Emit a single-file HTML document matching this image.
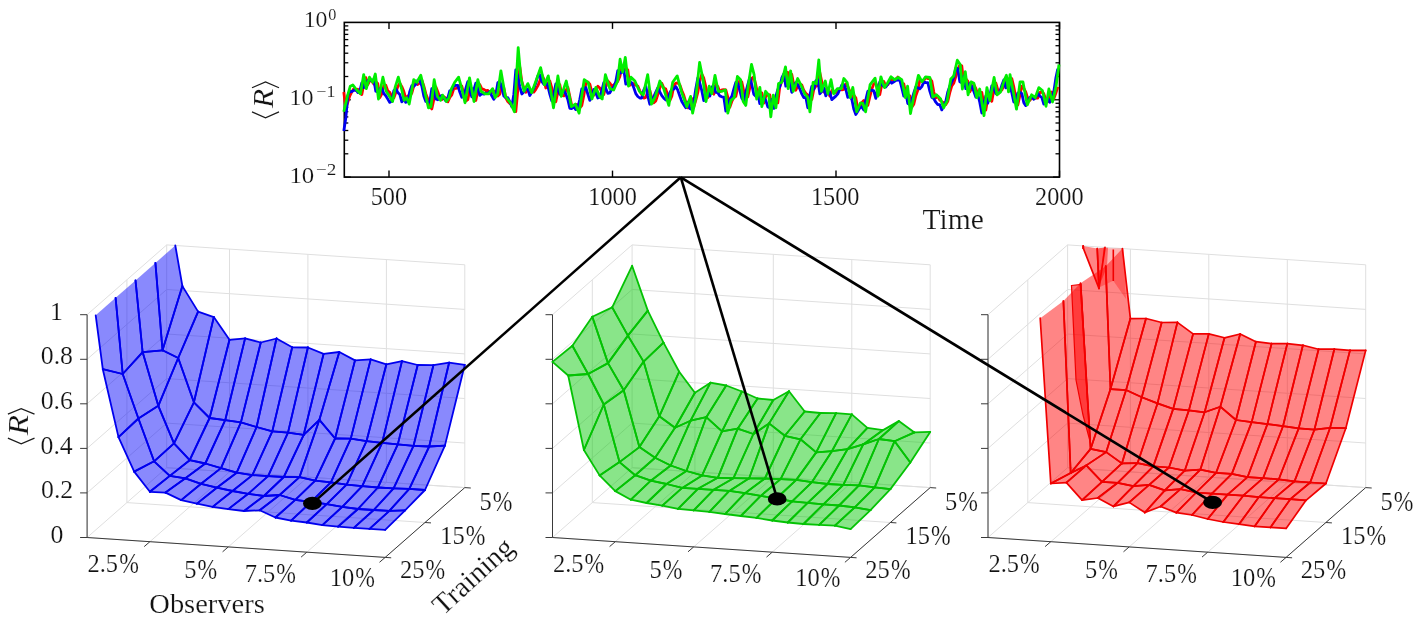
<!DOCTYPE html><html><head><meta charset="utf-8"><style>html,body{margin:0;padding:0;background:#fff;}svg{display:block;}text{font-family:"Liberation Serif",serif;fill:#111;stroke:#fff;stroke-width:0.7px;stroke-linejoin:round;}</style></head><body>
<svg width="1418" height="624" viewBox="0 0 1418 624">
<rect width="100%" height="100%" fill="#fff"/>
<line x1="229.5" y1="471.9" x2="229.5" y2="249.1" stroke="#dfdfdf" stroke-width="1.0"/>
<line x1="307.9" y1="477.1" x2="307.9" y2="254.3" stroke="#dfdfdf" stroke-width="1.0"/>
<line x1="386.4" y1="482.4" x2="386.4" y2="259.6" stroke="#dfdfdf" stroke-width="1.0"/>
<line x1="464.8" y1="487.6" x2="464.8" y2="264.8" stroke="#dfdfdf" stroke-width="1.0"/>
<line x1="166.7" y1="467.7" x2="464.8" y2="487.6" stroke="#dfdfdf" stroke-width="1.0"/>
<line x1="166.7" y1="423.1" x2="464.8" y2="443.0" stroke="#dfdfdf" stroke-width="1.0"/>
<line x1="166.7" y1="378.6" x2="464.8" y2="398.5" stroke="#dfdfdf" stroke-width="1.0"/>
<line x1="166.7" y1="334.0" x2="464.8" y2="353.9" stroke="#dfdfdf" stroke-width="1.0"/>
<line x1="166.7" y1="289.5" x2="464.8" y2="309.4" stroke="#dfdfdf" stroke-width="1.0"/>
<line x1="166.7" y1="244.9" x2="464.8" y2="264.8" stroke="#dfdfdf" stroke-width="1.0"/>
<line x1="87.1" y1="537.5" x2="87.1" y2="314.7" stroke="#dfdfdf" stroke-width="1.0"/>
<line x1="126.9" y1="502.6" x2="126.9" y2="279.8" stroke="#dfdfdf" stroke-width="1.0"/>
<line x1="166.7" y1="467.7" x2="166.7" y2="244.9" stroke="#dfdfdf" stroke-width="1.0"/>
<line x1="87.1" y1="537.5" x2="166.7" y2="467.7" stroke="#dfdfdf" stroke-width="1.0"/>
<line x1="87.1" y1="492.9" x2="166.7" y2="423.1" stroke="#dfdfdf" stroke-width="1.0"/>
<line x1="87.1" y1="448.4" x2="166.7" y2="378.6" stroke="#dfdfdf" stroke-width="1.0"/>
<line x1="87.1" y1="403.8" x2="166.7" y2="334.0" stroke="#dfdfdf" stroke-width="1.0"/>
<line x1="87.1" y1="359.3" x2="166.7" y2="289.5" stroke="#dfdfdf" stroke-width="1.0"/>
<line x1="87.1" y1="314.7" x2="166.7" y2="244.9" stroke="#dfdfdf" stroke-width="1.0"/>
<line x1="149.9" y1="541.7" x2="229.5" y2="471.9" stroke="#dfdfdf" stroke-width="1.0"/>
<line x1="228.3" y1="546.9" x2="307.9" y2="477.1" stroke="#dfdfdf" stroke-width="1.0"/>
<line x1="306.8" y1="552.2" x2="386.4" y2="482.4" stroke="#dfdfdf" stroke-width="1.0"/>
<line x1="385.2" y1="557.4" x2="464.8" y2="487.6" stroke="#dfdfdf" stroke-width="1.0"/>
<line x1="87.1" y1="537.5" x2="385.2" y2="557.4" stroke="#dfdfdf" stroke-width="1.0"/>
<line x1="126.9" y1="502.6" x2="425.0" y2="522.5" stroke="#dfdfdf" stroke-width="1.0"/>
<line x1="166.7" y1="467.7" x2="464.8" y2="487.6" stroke="#dfdfdf" stroke-width="1.0"/>
<line x1="87.1" y1="537.5" x2="385.2" y2="557.4" stroke="#3a3a3a" stroke-width="1.0"/>
<line x1="385.2" y1="557.4" x2="464.8" y2="487.6" stroke="#3a3a3a" stroke-width="1.0"/>
<line x1="87.1" y1="537.5" x2="87.1" y2="314.7" stroke="#3a3a3a" stroke-width="1.0"/>
<line x1="80.1" y1="537.5" x2="87.1" y2="537.5" stroke="#3a3a3a" stroke-width="1"/>
<line x1="80.1" y1="492.9" x2="87.1" y2="492.9" stroke="#3a3a3a" stroke-width="1"/>
<line x1="80.1" y1="448.4" x2="87.1" y2="448.4" stroke="#3a3a3a" stroke-width="1"/>
<line x1="80.1" y1="403.8" x2="87.1" y2="403.8" stroke="#3a3a3a" stroke-width="1"/>
<line x1="80.1" y1="359.3" x2="87.1" y2="359.3" stroke="#3a3a3a" stroke-width="1"/>
<line x1="80.1" y1="314.7" x2="87.1" y2="314.7" stroke="#3a3a3a" stroke-width="1"/>
<line x1="149.9" y1="541.7" x2="144.2" y2="546.6" stroke="#3a3a3a" stroke-width="1"/>
<line x1="228.3" y1="546.9" x2="222.6" y2="551.8" stroke="#3a3a3a" stroke-width="1"/>
<line x1="306.8" y1="552.2" x2="301.1" y2="557.1" stroke="#3a3a3a" stroke-width="1"/>
<line x1="385.2" y1="557.4" x2="379.5" y2="562.3" stroke="#3a3a3a" stroke-width="1"/>
<line x1="385.2" y1="557.4" x2="391.2" y2="557.8" stroke="#3a3a3a" stroke-width="1"/>
<line x1="425.0" y1="522.5" x2="431.0" y2="522.9" stroke="#3a3a3a" stroke-width="1"/>
<line x1="464.8" y1="487.6" x2="470.8" y2="488.0" stroke="#3a3a3a" stroke-width="1"/>
<line x1="694.9" y1="471.9" x2="694.9" y2="249.1" stroke="#dfdfdf" stroke-width="1.0"/>
<line x1="773.3" y1="477.1" x2="773.3" y2="254.3" stroke="#dfdfdf" stroke-width="1.0"/>
<line x1="851.8" y1="482.4" x2="851.8" y2="259.6" stroke="#dfdfdf" stroke-width="1.0"/>
<line x1="930.2" y1="487.6" x2="930.2" y2="264.8" stroke="#dfdfdf" stroke-width="1.0"/>
<line x1="632.1" y1="467.7" x2="930.2" y2="487.6" stroke="#dfdfdf" stroke-width="1.0"/>
<line x1="632.1" y1="423.1" x2="930.2" y2="443.0" stroke="#dfdfdf" stroke-width="1.0"/>
<line x1="632.1" y1="378.6" x2="930.2" y2="398.5" stroke="#dfdfdf" stroke-width="1.0"/>
<line x1="632.1" y1="334.0" x2="930.2" y2="353.9" stroke="#dfdfdf" stroke-width="1.0"/>
<line x1="632.1" y1="289.5" x2="930.2" y2="309.4" stroke="#dfdfdf" stroke-width="1.0"/>
<line x1="632.1" y1="244.9" x2="930.2" y2="264.8" stroke="#dfdfdf" stroke-width="1.0"/>
<line x1="552.5" y1="537.5" x2="552.5" y2="314.7" stroke="#dfdfdf" stroke-width="1.0"/>
<line x1="592.3" y1="502.6" x2="592.3" y2="279.8" stroke="#dfdfdf" stroke-width="1.0"/>
<line x1="632.1" y1="467.7" x2="632.1" y2="244.9" stroke="#dfdfdf" stroke-width="1.0"/>
<line x1="552.5" y1="537.5" x2="632.1" y2="467.7" stroke="#dfdfdf" stroke-width="1.0"/>
<line x1="552.5" y1="492.9" x2="632.1" y2="423.1" stroke="#dfdfdf" stroke-width="1.0"/>
<line x1="552.5" y1="448.4" x2="632.1" y2="378.6" stroke="#dfdfdf" stroke-width="1.0"/>
<line x1="552.5" y1="403.8" x2="632.1" y2="334.0" stroke="#dfdfdf" stroke-width="1.0"/>
<line x1="552.5" y1="359.3" x2="632.1" y2="289.5" stroke="#dfdfdf" stroke-width="1.0"/>
<line x1="552.5" y1="314.7" x2="632.1" y2="244.9" stroke="#dfdfdf" stroke-width="1.0"/>
<line x1="615.3" y1="541.7" x2="694.9" y2="471.9" stroke="#dfdfdf" stroke-width="1.0"/>
<line x1="693.7" y1="546.9" x2="773.3" y2="477.1" stroke="#dfdfdf" stroke-width="1.0"/>
<line x1="772.2" y1="552.2" x2="851.8" y2="482.4" stroke="#dfdfdf" stroke-width="1.0"/>
<line x1="850.6" y1="557.4" x2="930.2" y2="487.6" stroke="#dfdfdf" stroke-width="1.0"/>
<line x1="552.5" y1="537.5" x2="850.6" y2="557.4" stroke="#dfdfdf" stroke-width="1.0"/>
<line x1="592.3" y1="502.6" x2="890.4" y2="522.5" stroke="#dfdfdf" stroke-width="1.0"/>
<line x1="632.1" y1="467.7" x2="930.2" y2="487.6" stroke="#dfdfdf" stroke-width="1.0"/>
<line x1="552.5" y1="537.5" x2="850.6" y2="557.4" stroke="#3a3a3a" stroke-width="1.0"/>
<line x1="850.6" y1="557.4" x2="930.2" y2="487.6" stroke="#3a3a3a" stroke-width="1.0"/>
<line x1="552.5" y1="537.5" x2="552.5" y2="314.7" stroke="#3a3a3a" stroke-width="1.0"/>
<line x1="545.5" y1="537.5" x2="552.5" y2="537.5" stroke="#3a3a3a" stroke-width="1"/>
<line x1="545.5" y1="492.9" x2="552.5" y2="492.9" stroke="#3a3a3a" stroke-width="1"/>
<line x1="545.5" y1="448.4" x2="552.5" y2="448.4" stroke="#3a3a3a" stroke-width="1"/>
<line x1="545.5" y1="403.8" x2="552.5" y2="403.8" stroke="#3a3a3a" stroke-width="1"/>
<line x1="545.5" y1="359.3" x2="552.5" y2="359.3" stroke="#3a3a3a" stroke-width="1"/>
<line x1="545.5" y1="314.7" x2="552.5" y2="314.7" stroke="#3a3a3a" stroke-width="1"/>
<line x1="615.3" y1="541.7" x2="609.6" y2="546.6" stroke="#3a3a3a" stroke-width="1"/>
<line x1="693.7" y1="546.9" x2="688.0" y2="551.8" stroke="#3a3a3a" stroke-width="1"/>
<line x1="772.2" y1="552.2" x2="766.5" y2="557.1" stroke="#3a3a3a" stroke-width="1"/>
<line x1="850.6" y1="557.4" x2="844.9" y2="562.3" stroke="#3a3a3a" stroke-width="1"/>
<line x1="850.6" y1="557.4" x2="856.6" y2="557.8" stroke="#3a3a3a" stroke-width="1"/>
<line x1="890.4" y1="522.5" x2="896.4" y2="522.9" stroke="#3a3a3a" stroke-width="1"/>
<line x1="930.2" y1="487.6" x2="936.2" y2="488.0" stroke="#3a3a3a" stroke-width="1"/>
<line x1="1130.4" y1="471.9" x2="1130.4" y2="249.1" stroke="#dfdfdf" stroke-width="1.0"/>
<line x1="1208.8" y1="477.1" x2="1208.8" y2="254.3" stroke="#dfdfdf" stroke-width="1.0"/>
<line x1="1287.3" y1="482.4" x2="1287.3" y2="259.6" stroke="#dfdfdf" stroke-width="1.0"/>
<line x1="1365.7" y1="487.6" x2="1365.7" y2="264.8" stroke="#dfdfdf" stroke-width="1.0"/>
<line x1="1067.6" y1="467.7" x2="1365.7" y2="487.6" stroke="#dfdfdf" stroke-width="1.0"/>
<line x1="1067.6" y1="423.1" x2="1365.7" y2="443.0" stroke="#dfdfdf" stroke-width="1.0"/>
<line x1="1067.6" y1="378.6" x2="1365.7" y2="398.5" stroke="#dfdfdf" stroke-width="1.0"/>
<line x1="1067.6" y1="334.0" x2="1365.7" y2="353.9" stroke="#dfdfdf" stroke-width="1.0"/>
<line x1="1067.6" y1="289.5" x2="1365.7" y2="309.4" stroke="#dfdfdf" stroke-width="1.0"/>
<line x1="1067.6" y1="244.9" x2="1365.7" y2="264.8" stroke="#dfdfdf" stroke-width="1.0"/>
<line x1="988.0" y1="537.5" x2="988.0" y2="314.7" stroke="#dfdfdf" stroke-width="1.0"/>
<line x1="1027.8" y1="502.6" x2="1027.8" y2="279.8" stroke="#dfdfdf" stroke-width="1.0"/>
<line x1="1067.6" y1="467.7" x2="1067.6" y2="244.9" stroke="#dfdfdf" stroke-width="1.0"/>
<line x1="988.0" y1="537.5" x2="1067.6" y2="467.7" stroke="#dfdfdf" stroke-width="1.0"/>
<line x1="988.0" y1="492.9" x2="1067.6" y2="423.1" stroke="#dfdfdf" stroke-width="1.0"/>
<line x1="988.0" y1="448.4" x2="1067.6" y2="378.6" stroke="#dfdfdf" stroke-width="1.0"/>
<line x1="988.0" y1="403.8" x2="1067.6" y2="334.0" stroke="#dfdfdf" stroke-width="1.0"/>
<line x1="988.0" y1="359.3" x2="1067.6" y2="289.5" stroke="#dfdfdf" stroke-width="1.0"/>
<line x1="988.0" y1="314.7" x2="1067.6" y2="244.9" stroke="#dfdfdf" stroke-width="1.0"/>
<line x1="1050.8" y1="541.7" x2="1130.4" y2="471.9" stroke="#dfdfdf" stroke-width="1.0"/>
<line x1="1129.2" y1="546.9" x2="1208.8" y2="477.1" stroke="#dfdfdf" stroke-width="1.0"/>
<line x1="1207.7" y1="552.2" x2="1287.3" y2="482.4" stroke="#dfdfdf" stroke-width="1.0"/>
<line x1="1286.1" y1="557.4" x2="1365.7" y2="487.6" stroke="#dfdfdf" stroke-width="1.0"/>
<line x1="988.0" y1="537.5" x2="1286.1" y2="557.4" stroke="#dfdfdf" stroke-width="1.0"/>
<line x1="1027.8" y1="502.6" x2="1325.9" y2="522.5" stroke="#dfdfdf" stroke-width="1.0"/>
<line x1="1067.6" y1="467.7" x2="1365.7" y2="487.6" stroke="#dfdfdf" stroke-width="1.0"/>
<line x1="988.0" y1="537.5" x2="1286.1" y2="557.4" stroke="#3a3a3a" stroke-width="1.0"/>
<line x1="1286.1" y1="557.4" x2="1365.7" y2="487.6" stroke="#3a3a3a" stroke-width="1.0"/>
<line x1="988.0" y1="537.5" x2="988.0" y2="314.7" stroke="#3a3a3a" stroke-width="1.0"/>
<line x1="981.0" y1="537.5" x2="988.0" y2="537.5" stroke="#3a3a3a" stroke-width="1"/>
<line x1="981.0" y1="492.9" x2="988.0" y2="492.9" stroke="#3a3a3a" stroke-width="1"/>
<line x1="981.0" y1="448.4" x2="988.0" y2="448.4" stroke="#3a3a3a" stroke-width="1"/>
<line x1="981.0" y1="403.8" x2="988.0" y2="403.8" stroke="#3a3a3a" stroke-width="1"/>
<line x1="981.0" y1="359.3" x2="988.0" y2="359.3" stroke="#3a3a3a" stroke-width="1"/>
<line x1="981.0" y1="314.7" x2="988.0" y2="314.7" stroke="#3a3a3a" stroke-width="1"/>
<line x1="1050.8" y1="541.7" x2="1045.1" y2="546.6" stroke="#3a3a3a" stroke-width="1"/>
<line x1="1129.2" y1="546.9" x2="1123.5" y2="551.8" stroke="#3a3a3a" stroke-width="1"/>
<line x1="1207.7" y1="552.2" x2="1202.0" y2="557.1" stroke="#3a3a3a" stroke-width="1"/>
<line x1="1286.1" y1="557.4" x2="1280.4" y2="562.3" stroke="#3a3a3a" stroke-width="1"/>
<line x1="1286.1" y1="557.4" x2="1292.1" y2="557.8" stroke="#3a3a3a" stroke-width="1"/>
<line x1="1325.9" y1="522.5" x2="1331.9" y2="522.9" stroke="#3a3a3a" stroke-width="1"/>
<line x1="1365.7" y1="487.6" x2="1371.7" y2="488.0" stroke="#3a3a3a" stroke-width="1"/>
<g stroke="#0000ee" stroke-width="1.8" stroke-linecap="round"><polygon points="193.9,402.3 209.6,418.0 229.5,339.8 213.8,317.1" fill="#0808fa" fill-opacity="0.48" stroke="none"/>
<line x1="193.9" y1="402.3" x2="209.6" y2="418.0"/>
<line x1="209.6" y1="418.0" x2="229.5" y2="339.8"/>
<line x1="229.5" y1="339.8" x2="213.8" y2="317.1"/>
<line x1="213.8" y1="317.1" x2="193.9" y2="402.3"/>
<polygon points="178.2,358.0 193.9,402.3 213.8,317.1 198.1,311.6" fill="#0808fa" fill-opacity="0.48" stroke="none"/>
<line x1="178.2" y1="358.0" x2="193.9" y2="402.3"/>
<line x1="193.9" y1="402.3" x2="213.8" y2="317.1"/>
<line x1="213.8" y1="317.1" x2="198.1" y2="311.6"/>
<line x1="198.1" y1="311.6" x2="178.2" y2="358.0"/>
<polygon points="162.5,350.3 178.2,358.0 198.1,311.6 182.4,286.1" fill="#0808fa" fill-opacity="0.48" stroke="none"/>
<line x1="162.5" y1="350.3" x2="178.2" y2="358.0"/>
<line x1="178.2" y1="358.0" x2="198.1" y2="311.6"/>
<line x1="198.1" y1="311.6" x2="182.4" y2="286.1"/>
<line x1="182.4" y1="286.1" x2="162.5" y2="350.3"/>
<polygon points="209.6,418.0 225.2,420.2 245.1,338.4 229.5,339.8" fill="#0808fa" fill-opacity="0.48" stroke="none"/>
<line x1="209.6" y1="418.0" x2="225.2" y2="420.2"/>
<line x1="225.2" y1="420.2" x2="245.1" y2="338.4"/>
<line x1="245.1" y1="338.4" x2="229.5" y2="339.8"/>
<line x1="229.5" y1="339.8" x2="209.6" y2="418.0"/>
<polygon points="225.2,420.2 240.9,422.4 260.8,342.5 245.1,338.4" fill="#0808fa" fill-opacity="0.48" stroke="none"/>
<line x1="225.2" y1="420.2" x2="240.9" y2="422.4"/>
<line x1="240.9" y1="422.4" x2="260.8" y2="342.5"/>
<line x1="260.8" y1="342.5" x2="245.1" y2="338.4"/>
<line x1="245.1" y1="338.4" x2="225.2" y2="420.2"/>
<polygon points="240.9,422.4 256.6,427.0 276.5,338.5 260.8,342.5" fill="#0808fa" fill-opacity="0.48" stroke="none"/>
<line x1="240.9" y1="422.4" x2="256.6" y2="427.0"/>
<line x1="256.6" y1="427.0" x2="276.5" y2="338.5"/>
<line x1="276.5" y1="338.5" x2="260.8" y2="342.5"/>
<line x1="260.8" y1="342.5" x2="240.9" y2="422.4"/>
<polygon points="256.6,427.0 272.3,431.4 292.2,347.3 276.5,338.5" fill="#0808fa" fill-opacity="0.48" stroke="none"/>
<line x1="256.6" y1="427.0" x2="272.3" y2="431.4"/>
<line x1="272.3" y1="431.4" x2="292.2" y2="347.3"/>
<line x1="292.2" y1="347.3" x2="276.5" y2="338.5"/>
<line x1="276.5" y1="338.5" x2="256.6" y2="427.0"/>
<polygon points="155.4,262.9 162.5,350.3 182.4,286.1 175.3,245.5" fill="#0808fa" fill-opacity="0.48" stroke="none"/>
<line x1="155.4" y1="262.9" x2="162.5" y2="350.3"/>
<line x1="162.5" y1="350.3" x2="182.4" y2="286.1"/>
<line x1="182.4" y1="286.1" x2="175.3" y2="245.5"/>
<polygon points="272.3,431.4 288.0,432.6 307.9,347.5 292.2,347.3" fill="#0808fa" fill-opacity="0.48" stroke="none"/>
<line x1="272.3" y1="431.4" x2="288.0" y2="432.6"/>
<line x1="288.0" y1="432.6" x2="307.9" y2="347.5"/>
<line x1="307.9" y1="347.5" x2="292.2" y2="347.3"/>
<line x1="292.2" y1="347.3" x2="272.3" y2="431.4"/>
<polygon points="288.0,432.6 303.7,434.8 323.6,353.9 307.9,347.5" fill="#0808fa" fill-opacity="0.48" stroke="none"/>
<line x1="288.0" y1="432.6" x2="303.7" y2="434.8"/>
<line x1="303.7" y1="434.8" x2="323.6" y2="353.9"/>
<line x1="323.6" y1="353.9" x2="307.9" y2="347.5"/>
<line x1="307.9" y1="347.5" x2="288.0" y2="432.6"/>
<polygon points="303.7,434.8 319.4,419.8 339.3,352.0 323.6,353.9" fill="#0808fa" fill-opacity="0.48" stroke="none"/>
<line x1="303.7" y1="434.8" x2="319.4" y2="419.8"/>
<line x1="319.4" y1="419.8" x2="339.3" y2="352.0"/>
<line x1="339.3" y1="352.0" x2="323.6" y2="353.9"/>
<line x1="323.6" y1="353.9" x2="303.7" y2="434.8"/>
<polygon points="319.4,419.8 335.1,438.5 355.0,360.4 339.3,352.0" fill="#0808fa" fill-opacity="0.48" stroke="none"/>
<line x1="319.4" y1="419.8" x2="335.1" y2="438.5"/>
<line x1="335.1" y1="438.5" x2="355.0" y2="360.4"/>
<line x1="355.0" y1="360.4" x2="339.3" y2="352.0"/>
<line x1="339.3" y1="352.0" x2="319.4" y2="419.8"/>
<polygon points="335.1,438.5 350.8,438.6 370.7,359.4 355.0,360.4" fill="#0808fa" fill-opacity="0.48" stroke="none"/>
<line x1="335.1" y1="438.5" x2="350.8" y2="438.6"/>
<line x1="350.8" y1="438.6" x2="370.7" y2="359.4"/>
<line x1="370.7" y1="359.4" x2="355.0" y2="360.4"/>
<line x1="355.0" y1="360.4" x2="335.1" y2="438.5"/>
<polygon points="350.8,438.6 366.5,441.2 386.4,364.3 370.7,359.4" fill="#0808fa" fill-opacity="0.48" stroke="none"/>
<line x1="350.8" y1="438.6" x2="366.5" y2="441.2"/>
<line x1="366.5" y1="441.2" x2="386.4" y2="364.3"/>
<line x1="386.4" y1="364.3" x2="370.7" y2="359.4"/>
<line x1="370.7" y1="359.4" x2="350.8" y2="438.6"/>
<polygon points="366.5,441.2 382.1,442.9 402.0,361.1 386.4,364.3" fill="#0808fa" fill-opacity="0.48" stroke="none"/>
<line x1="366.5" y1="441.2" x2="382.1" y2="442.9"/>
<line x1="382.1" y1="442.9" x2="402.0" y2="361.1"/>
<line x1="402.0" y1="361.1" x2="386.4" y2="364.3"/>
<line x1="386.4" y1="364.3" x2="366.5" y2="441.2"/>
<polygon points="382.1,442.9 397.8,444.4 417.7,365.0 402.0,361.1" fill="#0808fa" fill-opacity="0.48" stroke="none"/>
<line x1="382.1" y1="442.9" x2="397.8" y2="444.4"/>
<line x1="397.8" y1="444.4" x2="417.7" y2="365.0"/>
<line x1="417.7" y1="365.0" x2="402.0" y2="361.1"/>
<line x1="402.0" y1="361.1" x2="382.1" y2="442.9"/>
<polygon points="397.8,444.4 413.5,445.9 433.4,365.2 417.7,365.0" fill="#0808fa" fill-opacity="0.48" stroke="none"/>
<line x1="397.8" y1="444.4" x2="413.5" y2="445.9"/>
<line x1="413.5" y1="445.9" x2="433.4" y2="365.2"/>
<line x1="433.4" y1="365.2" x2="417.7" y2="365.0"/>
<line x1="417.7" y1="365.0" x2="397.8" y2="444.4"/>
<polygon points="413.5,445.9 429.2,446.5 449.1,362.7 433.4,365.2" fill="#0808fa" fill-opacity="0.48" stroke="none"/>
<line x1="413.5" y1="445.9" x2="429.2" y2="446.5"/>
<line x1="429.2" y1="446.5" x2="449.1" y2="362.7"/>
<line x1="449.1" y1="362.7" x2="433.4" y2="365.2"/>
<line x1="433.4" y1="365.2" x2="413.5" y2="445.9"/>
<polygon points="429.2,446.5 444.9,445.6 464.8,364.8 449.1,362.7" fill="#0808fa" fill-opacity="0.48" stroke="none"/>
<line x1="429.2" y1="446.5" x2="444.9" y2="445.6"/>
<line x1="444.9" y1="445.6" x2="464.8" y2="364.8"/>
<line x1="464.8" y1="364.8" x2="449.1" y2="362.7"/>
<line x1="449.1" y1="362.7" x2="429.2" y2="446.5"/>
<polygon points="174.0,443.4 189.7,460.2 209.6,418.0 193.9,402.3" fill="#0808fa" fill-opacity="0.48" stroke="none"/>
<line x1="174.0" y1="443.4" x2="189.7" y2="460.2"/>
<line x1="189.7" y1="460.2" x2="209.6" y2="418.0"/>
<line x1="209.6" y1="418.0" x2="193.9" y2="402.3"/>
<line x1="193.9" y1="402.3" x2="174.0" y2="443.4"/>
<polygon points="189.7,460.2 205.3,463.5 225.2,420.2 209.6,418.0" fill="#0808fa" fill-opacity="0.48" stroke="none"/>
<line x1="189.7" y1="460.2" x2="205.3" y2="463.5"/>
<line x1="205.3" y1="463.5" x2="225.2" y2="420.2"/>
<line x1="225.2" y1="420.2" x2="209.6" y2="418.0"/>
<line x1="209.6" y1="418.0" x2="189.7" y2="460.2"/>
<polygon points="158.3,405.8 174.0,443.4 193.9,402.3 178.2,358.0" fill="#0808fa" fill-opacity="0.48" stroke="none"/>
<line x1="158.3" y1="405.8" x2="174.0" y2="443.4"/>
<line x1="174.0" y1="443.4" x2="193.9" y2="402.3"/>
<line x1="193.9" y1="402.3" x2="178.2" y2="358.0"/>
<line x1="178.2" y1="358.0" x2="158.3" y2="405.8"/>
<polygon points="205.3,463.5 221.0,468.1 240.9,422.4 225.2,420.2" fill="#0808fa" fill-opacity="0.48" stroke="none"/>
<line x1="205.3" y1="463.5" x2="221.0" y2="468.1"/>
<line x1="221.0" y1="468.1" x2="240.9" y2="422.4"/>
<line x1="240.9" y1="422.4" x2="225.2" y2="420.2"/>
<line x1="225.2" y1="420.2" x2="205.3" y2="463.5"/>
<polygon points="142.6,352.1 158.3,405.8 178.2,358.0 162.5,350.3" fill="#0808fa" fill-opacity="0.48" stroke="none"/>
<line x1="142.6" y1="352.1" x2="158.3" y2="405.8"/>
<line x1="158.3" y1="405.8" x2="178.2" y2="358.0"/>
<line x1="178.2" y1="358.0" x2="162.5" y2="350.3"/>
<line x1="162.5" y1="350.3" x2="142.6" y2="352.1"/>
<polygon points="221.0,468.1 236.7,472.7 256.6,427.0 240.9,422.4" fill="#0808fa" fill-opacity="0.48" stroke="none"/>
<line x1="221.0" y1="468.1" x2="236.7" y2="472.7"/>
<line x1="236.7" y1="472.7" x2="256.6" y2="427.0"/>
<line x1="256.6" y1="427.0" x2="240.9" y2="422.4"/>
<line x1="240.9" y1="422.4" x2="221.0" y2="468.1"/>
<polygon points="236.7,472.7 252.4,475.1 272.3,431.4 256.6,427.0" fill="#0808fa" fill-opacity="0.48" stroke="none"/>
<line x1="236.7" y1="472.7" x2="252.4" y2="475.1"/>
<line x1="252.4" y1="475.1" x2="272.3" y2="431.4"/>
<line x1="272.3" y1="431.4" x2="256.6" y2="427.0"/>
<line x1="256.6" y1="427.0" x2="236.7" y2="472.7"/>
<polygon points="252.4,475.1 268.1,476.2 288.0,432.6 272.3,431.4" fill="#0808fa" fill-opacity="0.48" stroke="none"/>
<line x1="252.4" y1="475.1" x2="268.1" y2="476.2"/>
<line x1="268.1" y1="476.2" x2="288.0" y2="432.6"/>
<line x1="288.0" y1="432.6" x2="272.3" y2="431.4"/>
<line x1="272.3" y1="431.4" x2="252.4" y2="475.1"/>
<polygon points="268.1,476.2 283.8,477.0 303.7,434.8 288.0,432.6" fill="#0808fa" fill-opacity="0.48" stroke="none"/>
<line x1="268.1" y1="476.2" x2="283.8" y2="477.0"/>
<line x1="283.8" y1="477.0" x2="303.7" y2="434.8"/>
<line x1="303.7" y1="434.8" x2="288.0" y2="432.6"/>
<line x1="288.0" y1="432.6" x2="268.1" y2="476.2"/>
<polygon points="283.8,477.0 299.5,477.1 319.4,419.8 303.7,434.8" fill="#0808fa" fill-opacity="0.48" stroke="none"/>
<line x1="283.8" y1="477.0" x2="299.5" y2="477.1"/>
<line x1="299.5" y1="477.1" x2="319.4" y2="419.8"/>
<line x1="319.4" y1="419.8" x2="303.7" y2="434.8"/>
<line x1="303.7" y1="434.8" x2="283.8" y2="477.0"/>
<polygon points="135.5,280.4 142.6,352.1 162.5,350.3 155.4,262.9" fill="#0808fa" fill-opacity="0.48" stroke="none"/>
<line x1="135.5" y1="280.4" x2="142.6" y2="352.1"/>
<line x1="142.6" y1="352.1" x2="162.5" y2="350.3"/>
<line x1="162.5" y1="350.3" x2="155.4" y2="262.9"/>
<polygon points="299.5,477.1 315.2,480.6 335.1,438.5 319.4,419.8" fill="#0808fa" fill-opacity="0.48" stroke="none"/>
<line x1="299.5" y1="477.1" x2="315.2" y2="480.6"/>
<line x1="315.2" y1="480.6" x2="335.1" y2="438.5"/>
<line x1="335.1" y1="438.5" x2="319.4" y2="419.8"/>
<line x1="319.4" y1="419.8" x2="299.5" y2="477.1"/>
<polygon points="315.2,480.6 330.9,482.4 350.8,438.6 335.1,438.5" fill="#0808fa" fill-opacity="0.48" stroke="none"/>
<line x1="315.2" y1="480.6" x2="330.9" y2="482.4"/>
<line x1="330.9" y1="482.4" x2="350.8" y2="438.6"/>
<line x1="350.8" y1="438.6" x2="335.1" y2="438.5"/>
<line x1="335.1" y1="438.5" x2="315.2" y2="480.6"/>
<polygon points="330.9,482.4 346.6,484.7 366.5,441.2 350.8,438.6" fill="#0808fa" fill-opacity="0.48" stroke="none"/>
<line x1="330.9" y1="482.4" x2="346.6" y2="484.7"/>
<line x1="346.6" y1="484.7" x2="366.5" y2="441.2"/>
<line x1="366.5" y1="441.2" x2="350.8" y2="438.6"/>
<line x1="350.8" y1="438.6" x2="330.9" y2="482.4"/>
<polygon points="346.6,484.7 362.2,486.2 382.1,442.9 366.5,441.2" fill="#0808fa" fill-opacity="0.48" stroke="none"/>
<line x1="346.6" y1="484.7" x2="362.2" y2="486.2"/>
<line x1="362.2" y1="486.2" x2="382.1" y2="442.9"/>
<line x1="382.1" y1="442.9" x2="366.5" y2="441.2"/>
<line x1="366.5" y1="441.2" x2="346.6" y2="484.7"/>
<polygon points="362.2,486.2 377.9,487.5 397.8,444.4 382.1,442.9" fill="#0808fa" fill-opacity="0.48" stroke="none"/>
<line x1="362.2" y1="486.2" x2="377.9" y2="487.5"/>
<line x1="377.9" y1="487.5" x2="397.8" y2="444.4"/>
<line x1="397.8" y1="444.4" x2="382.1" y2="442.9"/>
<line x1="382.1" y1="442.9" x2="362.2" y2="486.2"/>
<polygon points="377.9,487.5 393.6,488.3 413.5,445.9 397.8,444.4" fill="#0808fa" fill-opacity="0.48" stroke="none"/>
<line x1="377.9" y1="487.5" x2="393.6" y2="488.3"/>
<line x1="393.6" y1="488.3" x2="413.5" y2="445.9"/>
<line x1="413.5" y1="445.9" x2="397.8" y2="444.4"/>
<line x1="397.8" y1="444.4" x2="377.9" y2="487.5"/>
<polygon points="393.6,488.3 409.3,488.9 429.2,446.5 413.5,445.9" fill="#0808fa" fill-opacity="0.48" stroke="none"/>
<line x1="393.6" y1="488.3" x2="409.3" y2="488.9"/>
<line x1="409.3" y1="488.9" x2="429.2" y2="446.5"/>
<line x1="429.2" y1="446.5" x2="413.5" y2="445.9"/>
<line x1="413.5" y1="445.9" x2="393.6" y2="488.3"/>
<polygon points="409.3,488.9 425.0,490.0 444.9,445.6 429.2,446.5" fill="#0808fa" fill-opacity="0.48" stroke="none"/>
<line x1="409.3" y1="488.9" x2="425.0" y2="490.0"/>
<line x1="425.0" y1="490.0" x2="444.9" y2="445.6"/>
<line x1="444.9" y1="445.6" x2="429.2" y2="446.5"/>
<line x1="429.2" y1="446.5" x2="409.3" y2="488.9"/>
<polygon points="154.1,461.3 169.8,475.9 189.7,460.2 174.0,443.4" fill="#0808fa" fill-opacity="0.48" stroke="none"/>
<line x1="154.1" y1="461.3" x2="169.8" y2="475.9"/>
<line x1="169.8" y1="475.9" x2="189.7" y2="460.2"/>
<line x1="189.7" y1="460.2" x2="174.0" y2="443.4"/>
<line x1="174.0" y1="443.4" x2="154.1" y2="461.3"/>
<polygon points="169.8,475.9 185.4,478.3 205.3,463.5 189.7,460.2" fill="#0808fa" fill-opacity="0.48" stroke="none"/>
<line x1="169.8" y1="475.9" x2="185.4" y2="478.3"/>
<line x1="185.4" y1="478.3" x2="205.3" y2="463.5"/>
<line x1="205.3" y1="463.5" x2="189.7" y2="460.2"/>
<line x1="189.7" y1="460.2" x2="169.8" y2="475.9"/>
<polygon points="138.4,418.5 154.1,461.3 174.0,443.4 158.3,405.8" fill="#0808fa" fill-opacity="0.48" stroke="none"/>
<line x1="138.4" y1="418.5" x2="154.1" y2="461.3"/>
<line x1="154.1" y1="461.3" x2="174.0" y2="443.4"/>
<line x1="174.0" y1="443.4" x2="158.3" y2="405.8"/>
<line x1="158.3" y1="405.8" x2="138.4" y2="418.5"/>
<polygon points="185.4,478.3 201.1,483.8 221.0,468.1 205.3,463.5" fill="#0808fa" fill-opacity="0.48" stroke="none"/>
<line x1="185.4" y1="478.3" x2="201.1" y2="483.8"/>
<line x1="201.1" y1="483.8" x2="221.0" y2="468.1"/>
<line x1="221.0" y1="468.1" x2="205.3" y2="463.5"/>
<line x1="205.3" y1="463.5" x2="185.4" y2="478.3"/>
<polygon points="201.1,483.8 216.8,487.7 236.7,472.7 221.0,468.1" fill="#0808fa" fill-opacity="0.48" stroke="none"/>
<line x1="201.1" y1="483.8" x2="216.8" y2="487.7"/>
<line x1="216.8" y1="487.7" x2="236.7" y2="472.7"/>
<line x1="236.7" y1="472.7" x2="221.0" y2="468.1"/>
<line x1="221.0" y1="468.1" x2="201.1" y2="483.8"/>
<polygon points="122.7,374.0 138.4,418.5 158.3,405.8 142.6,352.1" fill="#0808fa" fill-opacity="0.48" stroke="none"/>
<line x1="122.7" y1="374.0" x2="138.4" y2="418.5"/>
<line x1="138.4" y1="418.5" x2="158.3" y2="405.8"/>
<line x1="158.3" y1="405.8" x2="142.6" y2="352.1"/>
<line x1="142.6" y1="352.1" x2="122.7" y2="374.0"/>
<polygon points="216.8,487.7 232.5,491.0 252.4,475.1 236.7,472.7" fill="#0808fa" fill-opacity="0.48" stroke="none"/>
<line x1="216.8" y1="487.7" x2="232.5" y2="491.0"/>
<line x1="232.5" y1="491.0" x2="252.4" y2="475.1"/>
<line x1="252.4" y1="475.1" x2="236.7" y2="472.7"/>
<line x1="236.7" y1="472.7" x2="216.8" y2="487.7"/>
<polygon points="232.5,491.0 248.2,493.8 268.1,476.2 252.4,475.1" fill="#0808fa" fill-opacity="0.48" stroke="none"/>
<line x1="232.5" y1="491.0" x2="248.2" y2="493.8"/>
<line x1="248.2" y1="493.8" x2="268.1" y2="476.2"/>
<line x1="268.1" y1="476.2" x2="252.4" y2="475.1"/>
<line x1="252.4" y1="475.1" x2="232.5" y2="491.0"/>
<polygon points="248.2,493.8 263.9,496.0 283.8,477.0 268.1,476.2" fill="#0808fa" fill-opacity="0.48" stroke="none"/>
<line x1="248.2" y1="493.8" x2="263.9" y2="496.0"/>
<line x1="263.9" y1="496.0" x2="283.8" y2="477.0"/>
<line x1="283.8" y1="477.0" x2="268.1" y2="476.2"/>
<line x1="268.1" y1="476.2" x2="248.2" y2="493.8"/>
<polygon points="263.9,496.0 279.6,495.0 299.5,477.1 283.8,477.0" fill="#0808fa" fill-opacity="0.48" stroke="none"/>
<line x1="263.9" y1="496.0" x2="279.6" y2="495.0"/>
<line x1="279.6" y1="495.0" x2="299.5" y2="477.1"/>
<line x1="299.5" y1="477.1" x2="283.8" y2="477.0"/>
<line x1="283.8" y1="477.0" x2="263.9" y2="496.0"/>
<polygon points="279.6,495.0 295.3,499.9 315.2,480.6 299.5,477.1" fill="#0808fa" fill-opacity="0.48" stroke="none"/>
<line x1="279.6" y1="495.0" x2="295.3" y2="499.9"/>
<line x1="295.3" y1="499.9" x2="315.2" y2="480.6"/>
<line x1="315.2" y1="480.6" x2="299.5" y2="477.1"/>
<line x1="299.5" y1="477.1" x2="279.6" y2="495.0"/>
<polygon points="115.6,297.8 122.7,374.0 142.6,352.1 135.5,280.4" fill="#0808fa" fill-opacity="0.48" stroke="none"/>
<line x1="115.6" y1="297.8" x2="122.7" y2="374.0"/>
<line x1="122.7" y1="374.0" x2="142.6" y2="352.1"/>
<line x1="142.6" y1="352.1" x2="135.5" y2="280.4"/>
<polygon points="295.3,499.9 311.0,502.0 330.9,482.4 315.2,480.6" fill="#0808fa" fill-opacity="0.48" stroke="none"/>
<line x1="295.3" y1="499.9" x2="311.0" y2="502.0"/>
<line x1="311.0" y1="502.0" x2="330.9" y2="482.4"/>
<line x1="330.9" y1="482.4" x2="315.2" y2="480.6"/>
<line x1="315.2" y1="480.6" x2="295.3" y2="499.9"/>
<polygon points="311.0,502.0 326.7,504.2 346.6,484.7 330.9,482.4" fill="#0808fa" fill-opacity="0.48" stroke="none"/>
<line x1="311.0" y1="502.0" x2="326.7" y2="504.2"/>
<line x1="326.7" y1="504.2" x2="346.6" y2="484.7"/>
<line x1="346.6" y1="484.7" x2="330.9" y2="482.4"/>
<line x1="330.9" y1="482.4" x2="311.0" y2="502.0"/>
<polygon points="326.7,504.2 342.3,506.8 362.2,486.2 346.6,484.7" fill="#0808fa" fill-opacity="0.48" stroke="none"/>
<line x1="326.7" y1="504.2" x2="342.3" y2="506.8"/>
<line x1="342.3" y1="506.8" x2="362.2" y2="486.2"/>
<line x1="362.2" y1="486.2" x2="346.6" y2="484.7"/>
<line x1="346.6" y1="484.7" x2="326.7" y2="504.2"/>
<polygon points="342.3,506.8 358.0,509.0 377.9,487.5 362.2,486.2" fill="#0808fa" fill-opacity="0.48" stroke="none"/>
<line x1="342.3" y1="506.8" x2="358.0" y2="509.0"/>
<line x1="358.0" y1="509.0" x2="377.9" y2="487.5"/>
<line x1="377.9" y1="487.5" x2="362.2" y2="486.2"/>
<line x1="362.2" y1="486.2" x2="342.3" y2="506.8"/>
<polygon points="358.0,509.0 373.7,510.0 393.6,488.3 377.9,487.5" fill="#0808fa" fill-opacity="0.48" stroke="none"/>
<line x1="358.0" y1="509.0" x2="373.7" y2="510.0"/>
<line x1="373.7" y1="510.0" x2="393.6" y2="488.3"/>
<line x1="393.6" y1="488.3" x2="377.9" y2="487.5"/>
<line x1="377.9" y1="487.5" x2="358.0" y2="509.0"/>
<polygon points="373.7,510.0 389.4,510.8 409.3,488.9 393.6,488.3" fill="#0808fa" fill-opacity="0.48" stroke="none"/>
<line x1="373.7" y1="510.0" x2="389.4" y2="510.8"/>
<line x1="389.4" y1="510.8" x2="409.3" y2="488.9"/>
<line x1="409.3" y1="488.9" x2="393.6" y2="488.3"/>
<line x1="393.6" y1="488.3" x2="373.7" y2="510.0"/>
<polygon points="389.4,510.8 405.1,510.3 425.0,490.0 409.3,488.9" fill="#0808fa" fill-opacity="0.48" stroke="none"/>
<line x1="389.4" y1="510.8" x2="405.1" y2="510.3"/>
<line x1="405.1" y1="510.3" x2="425.0" y2="490.0"/>
<line x1="425.0" y1="490.0" x2="409.3" y2="488.9"/>
<line x1="409.3" y1="488.9" x2="389.4" y2="510.8"/>
<polygon points="134.2,471.6 149.9,491.8 169.8,475.9 154.1,461.3" fill="#0808fa" fill-opacity="0.48" stroke="none"/>
<line x1="134.2" y1="471.6" x2="149.9" y2="491.8"/>
<line x1="149.9" y1="491.8" x2="169.8" y2="475.9"/>
<line x1="169.8" y1="475.9" x2="154.1" y2="461.3"/>
<line x1="154.1" y1="461.3" x2="134.2" y2="471.6"/>
<polygon points="149.9,491.8 165.5,492.6 185.4,478.3 169.8,475.9" fill="#0808fa" fill-opacity="0.48" stroke="none"/>
<line x1="149.9" y1="491.8" x2="165.5" y2="492.6"/>
<line x1="165.5" y1="492.6" x2="185.4" y2="478.3"/>
<line x1="185.4" y1="478.3" x2="169.8" y2="475.9"/>
<line x1="169.8" y1="475.9" x2="149.9" y2="491.8"/>
<polygon points="118.5,437.1 134.2,471.6 154.1,461.3 138.4,418.5" fill="#0808fa" fill-opacity="0.48" stroke="none"/>
<line x1="118.5" y1="437.1" x2="134.2" y2="471.6"/>
<line x1="134.2" y1="471.6" x2="154.1" y2="461.3"/>
<line x1="154.1" y1="461.3" x2="138.4" y2="418.5"/>
<line x1="138.4" y1="418.5" x2="118.5" y2="437.1"/>
<polygon points="165.5,492.6 181.2,500.1 201.1,483.8 185.4,478.3" fill="#0808fa" fill-opacity="0.48" stroke="none"/>
<line x1="165.5" y1="492.6" x2="181.2" y2="500.1"/>
<line x1="181.2" y1="500.1" x2="201.1" y2="483.8"/>
<line x1="201.1" y1="483.8" x2="185.4" y2="478.3"/>
<line x1="185.4" y1="478.3" x2="165.5" y2="492.6"/>
<polygon points="181.2,500.1 196.9,503.6 216.8,487.7 201.1,483.8" fill="#0808fa" fill-opacity="0.48" stroke="none"/>
<line x1="181.2" y1="500.1" x2="196.9" y2="503.6"/>
<line x1="196.9" y1="503.6" x2="216.8" y2="487.7"/>
<line x1="216.8" y1="487.7" x2="201.1" y2="483.8"/>
<line x1="201.1" y1="483.8" x2="181.2" y2="500.1"/>
<polygon points="102.8,369.2 118.5,437.1 138.4,418.5 122.7,374.0" fill="#0808fa" fill-opacity="0.48" stroke="none"/>
<line x1="102.8" y1="369.2" x2="118.5" y2="437.1"/>
<line x1="118.5" y1="437.1" x2="138.4" y2="418.5"/>
<line x1="138.4" y1="418.5" x2="122.7" y2="374.0"/>
<line x1="122.7" y1="374.0" x2="102.8" y2="369.2"/>
<polygon points="196.9,503.6 212.6,506.9 232.5,491.0 216.8,487.7" fill="#0808fa" fill-opacity="0.48" stroke="none"/>
<line x1="196.9" y1="503.6" x2="212.6" y2="506.9"/>
<line x1="212.6" y1="506.9" x2="232.5" y2="491.0"/>
<line x1="232.5" y1="491.0" x2="216.8" y2="487.7"/>
<line x1="216.8" y1="487.7" x2="196.9" y2="503.6"/>
<polygon points="212.6,506.9 228.3,509.1 248.2,493.8 232.5,491.0" fill="#0808fa" fill-opacity="0.48" stroke="none"/>
<line x1="212.6" y1="506.9" x2="228.3" y2="509.1"/>
<line x1="228.3" y1="509.1" x2="248.2" y2="493.8"/>
<line x1="248.2" y1="493.8" x2="232.5" y2="491.0"/>
<line x1="232.5" y1="491.0" x2="212.6" y2="506.9"/>
<polygon points="228.3,509.1 244.0,511.0 263.9,496.0 248.2,493.8" fill="#0808fa" fill-opacity="0.48" stroke="none"/>
<line x1="228.3" y1="509.1" x2="244.0" y2="511.0"/>
<line x1="244.0" y1="511.0" x2="263.9" y2="496.0"/>
<line x1="263.9" y1="496.0" x2="248.2" y2="493.8"/>
<line x1="248.2" y1="493.8" x2="228.3" y2="509.1"/>
<polygon points="244.0,511.0 259.7,510.3 279.6,495.0 263.9,496.0" fill="#0808fa" fill-opacity="0.48" stroke="none"/>
<line x1="244.0" y1="511.0" x2="259.7" y2="510.3"/>
<line x1="259.7" y1="510.3" x2="279.6" y2="495.0"/>
<line x1="279.6" y1="495.0" x2="263.9" y2="496.0"/>
<line x1="263.9" y1="496.0" x2="244.0" y2="511.0"/>
<polygon points="259.7,510.3 275.4,517.5 295.3,499.9 279.6,495.0" fill="#0808fa" fill-opacity="0.48" stroke="none"/>
<line x1="259.7" y1="510.3" x2="275.4" y2="517.5"/>
<line x1="275.4" y1="517.5" x2="295.3" y2="499.9"/>
<line x1="295.3" y1="499.9" x2="279.6" y2="495.0"/>
<line x1="279.6" y1="495.0" x2="259.7" y2="510.3"/>
<polygon points="95.7,315.3 102.8,369.2 122.7,374.0 115.6,297.8" fill="#0808fa" fill-opacity="0.48" stroke="none"/>
<line x1="95.7" y1="315.3" x2="102.8" y2="369.2"/>
<line x1="102.8" y1="369.2" x2="122.7" y2="374.0"/>
<line x1="122.7" y1="374.0" x2="115.6" y2="297.8"/>
<polygon points="275.4,517.5 291.1,520.6 311.0,502.0 295.3,499.9" fill="#0808fa" fill-opacity="0.48" stroke="none"/>
<line x1="275.4" y1="517.5" x2="291.1" y2="520.6"/>
<line x1="291.1" y1="520.6" x2="311.0" y2="502.0"/>
<line x1="311.0" y1="502.0" x2="295.3" y2="499.9"/>
<line x1="295.3" y1="499.9" x2="275.4" y2="517.5"/>
<polygon points="291.1,520.6 306.8,522.5 326.7,504.2 311.0,502.0" fill="#0808fa" fill-opacity="0.48" stroke="none"/>
<line x1="291.1" y1="520.6" x2="306.8" y2="522.5"/>
<line x1="306.8" y1="522.5" x2="326.7" y2="504.2"/>
<line x1="326.7" y1="504.2" x2="311.0" y2="502.0"/>
<line x1="311.0" y1="502.0" x2="291.1" y2="520.6"/>
<polygon points="306.8,522.5 322.4,525.1 342.3,506.8 326.7,504.2" fill="#0808fa" fill-opacity="0.48" stroke="none"/>
<line x1="306.8" y1="522.5" x2="322.4" y2="525.1"/>
<line x1="322.4" y1="525.1" x2="342.3" y2="506.8"/>
<line x1="342.3" y1="506.8" x2="326.7" y2="504.2"/>
<line x1="326.7" y1="504.2" x2="306.8" y2="522.5"/>
<polygon points="322.4,525.1 338.1,526.6 358.0,509.0 342.3,506.8" fill="#0808fa" fill-opacity="0.48" stroke="none"/>
<line x1="322.4" y1="525.1" x2="338.1" y2="526.6"/>
<line x1="338.1" y1="526.6" x2="358.0" y2="509.0"/>
<line x1="358.0" y1="509.0" x2="342.3" y2="506.8"/>
<line x1="342.3" y1="506.8" x2="322.4" y2="525.1"/>
<polygon points="338.1,526.6 353.8,527.9 373.7,510.0 358.0,509.0" fill="#0808fa" fill-opacity="0.48" stroke="none"/>
<line x1="338.1" y1="526.6" x2="353.8" y2="527.9"/>
<line x1="353.8" y1="527.9" x2="373.7" y2="510.0"/>
<line x1="373.7" y1="510.0" x2="358.0" y2="509.0"/>
<line x1="358.0" y1="509.0" x2="338.1" y2="526.6"/>
<polygon points="353.8,527.9 369.5,528.9 389.4,510.8 373.7,510.0" fill="#0808fa" fill-opacity="0.48" stroke="none"/>
<line x1="353.8" y1="527.9" x2="369.5" y2="528.9"/>
<line x1="369.5" y1="528.9" x2="389.4" y2="510.8"/>
<line x1="389.4" y1="510.8" x2="373.7" y2="510.0"/>
<line x1="373.7" y1="510.0" x2="353.8" y2="527.9"/>
<polygon points="369.5,528.9 385.2,529.8 405.1,510.3 389.4,510.8" fill="#0808fa" fill-opacity="0.48" stroke="none"/>
<line x1="369.5" y1="528.9" x2="385.2" y2="529.8"/>
<line x1="385.2" y1="529.8" x2="405.1" y2="510.3"/>
<line x1="405.1" y1="510.3" x2="389.4" y2="510.8"/>
<line x1="389.4" y1="510.8" x2="369.5" y2="528.9"/></g>
<g stroke="#04c204" stroke-width="1.8" stroke-linecap="round"><polygon points="659.3,416.3 675.0,427.8 694.9,392.8 679.2,371.7" fill="#08c808" fill-opacity="0.48" stroke="none"/>
<line x1="659.3" y1="416.3" x2="675.0" y2="427.8"/>
<line x1="675.0" y1="427.8" x2="694.9" y2="392.8"/>
<line x1="694.9" y1="392.8" x2="679.2" y2="371.7"/>
<line x1="679.2" y1="371.7" x2="659.3" y2="416.3"/>
<polygon points="643.6,361.6 659.3,416.3 679.2,371.7 663.5,342.6" fill="#08c808" fill-opacity="0.48" stroke="none"/>
<line x1="643.6" y1="361.6" x2="659.3" y2="416.3"/>
<line x1="659.3" y1="416.3" x2="679.2" y2="371.7"/>
<line x1="679.2" y1="371.7" x2="663.5" y2="342.6"/>
<line x1="663.5" y1="342.6" x2="643.6" y2="361.6"/>
<polygon points="675.0,427.8 690.6,420.7 710.5,382.7 694.9,392.8" fill="#08c808" fill-opacity="0.48" stroke="none"/>
<line x1="675.0" y1="427.8" x2="690.6" y2="420.7"/>
<line x1="690.6" y1="420.7" x2="710.5" y2="382.7"/>
<line x1="710.5" y1="382.7" x2="694.9" y2="392.8"/>
<line x1="694.9" y1="392.8" x2="675.0" y2="427.8"/>
<polygon points="627.9,335.6 643.6,361.6 663.5,342.6 647.8,310.6" fill="#08c808" fill-opacity="0.48" stroke="none"/>
<line x1="627.9" y1="335.6" x2="643.6" y2="361.6"/>
<line x1="643.6" y1="361.6" x2="663.5" y2="342.6"/>
<line x1="663.5" y1="342.6" x2="647.8" y2="310.6"/>
<line x1="647.8" y1="310.6" x2="627.9" y2="335.6"/>
<polygon points="690.6,420.7 706.3,417.2 726.2,385.5 710.5,382.7" fill="#08c808" fill-opacity="0.48" stroke="none"/>
<line x1="690.6" y1="420.7" x2="706.3" y2="417.2"/>
<line x1="706.3" y1="417.2" x2="726.2" y2="385.5"/>
<line x1="726.2" y1="385.5" x2="710.5" y2="382.7"/>
<line x1="710.5" y1="382.7" x2="690.6" y2="420.7"/>
<polygon points="612.2,307.4 627.9,335.6 647.8,310.6 632.1,265.8" fill="#08c808" fill-opacity="0.48" stroke="none"/>
<line x1="612.2" y1="307.4" x2="627.9" y2="335.6"/>
<line x1="627.9" y1="335.6" x2="647.8" y2="310.6"/>
<line x1="647.8" y1="310.6" x2="632.1" y2="265.8"/>
<line x1="632.1" y1="265.8" x2="612.2" y2="307.4"/>
<polygon points="706.3,417.2 722.0,431.4 741.9,391.5 726.2,385.5" fill="#08c808" fill-opacity="0.48" stroke="none"/>
<line x1="706.3" y1="417.2" x2="722.0" y2="431.4"/>
<line x1="722.0" y1="431.4" x2="741.9" y2="391.5"/>
<line x1="741.9" y1="391.5" x2="726.2" y2="385.5"/>
<line x1="726.2" y1="385.5" x2="706.3" y2="417.2"/>
<polygon points="722.0,431.4 737.7,428.7 757.6,398.5 741.9,391.5" fill="#08c808" fill-opacity="0.48" stroke="none"/>
<line x1="722.0" y1="431.4" x2="737.7" y2="428.7"/>
<line x1="737.7" y1="428.7" x2="757.6" y2="398.5"/>
<line x1="757.6" y1="398.5" x2="741.9" y2="391.5"/>
<line x1="741.9" y1="391.5" x2="722.0" y2="431.4"/>
<polygon points="737.7,428.7 753.4,434.0 773.3,400.0 757.6,398.5" fill="#08c808" fill-opacity="0.48" stroke="none"/>
<line x1="737.7" y1="428.7" x2="753.4" y2="434.0"/>
<line x1="753.4" y1="434.0" x2="773.3" y2="400.0"/>
<line x1="773.3" y1="400.0" x2="757.6" y2="398.5"/>
<line x1="757.6" y1="398.5" x2="737.7" y2="428.7"/>
<polygon points="753.4,434.0 769.1,423.4 789.0,391.3 773.3,400.0" fill="#08c808" fill-opacity="0.48" stroke="none"/>
<line x1="753.4" y1="434.0" x2="769.1" y2="423.4"/>
<line x1="769.1" y1="423.4" x2="789.0" y2="391.3"/>
<line x1="789.0" y1="391.3" x2="773.3" y2="400.0"/>
<line x1="773.3" y1="400.0" x2="753.4" y2="434.0"/>
<polygon points="769.1,423.4 784.8,435.8 804.7,411.5 789.0,391.3" fill="#08c808" fill-opacity="0.48" stroke="none"/>
<line x1="769.1" y1="423.4" x2="784.8" y2="435.8"/>
<line x1="784.8" y1="435.8" x2="804.7" y2="411.5"/>
<line x1="804.7" y1="411.5" x2="789.0" y2="391.3"/>
<line x1="789.0" y1="391.3" x2="769.1" y2="423.4"/>
<polygon points="784.8,435.8 800.5,439.3 820.4,413.0 804.7,411.5" fill="#08c808" fill-opacity="0.48" stroke="none"/>
<line x1="784.8" y1="435.8" x2="800.5" y2="439.3"/>
<line x1="800.5" y1="439.3" x2="820.4" y2="413.0"/>
<line x1="820.4" y1="413.0" x2="804.7" y2="411.5"/>
<line x1="804.7" y1="411.5" x2="784.8" y2="435.8"/>
<polygon points="800.5,439.3 816.2,452.4 836.1,413.1 820.4,413.0" fill="#08c808" fill-opacity="0.48" stroke="none"/>
<line x1="800.5" y1="439.3" x2="816.2" y2="452.4"/>
<line x1="816.2" y1="452.4" x2="836.1" y2="413.1"/>
<line x1="836.1" y1="413.1" x2="820.4" y2="413.0"/>
<line x1="820.4" y1="413.0" x2="800.5" y2="439.3"/>
<polygon points="816.2,452.4 831.9,451.2 851.8,414.4 836.1,413.1" fill="#08c808" fill-opacity="0.48" stroke="none"/>
<line x1="816.2" y1="452.4" x2="831.9" y2="451.2"/>
<line x1="831.9" y1="451.2" x2="851.8" y2="414.4"/>
<line x1="851.8" y1="414.4" x2="836.1" y2="413.1"/>
<line x1="836.1" y1="413.1" x2="816.2" y2="452.4"/>
<polygon points="831.9,451.2 847.5,449.2 867.4,427.9 851.8,414.4" fill="#08c808" fill-opacity="0.48" stroke="none"/>
<line x1="831.9" y1="451.2" x2="847.5" y2="449.2"/>
<line x1="847.5" y1="449.2" x2="867.4" y2="427.9"/>
<line x1="867.4" y1="427.9" x2="851.8" y2="414.4"/>
<line x1="851.8" y1="414.4" x2="831.9" y2="451.2"/>
<polygon points="847.5,449.2 863.2,444.4 883.1,430.1 867.4,427.9" fill="#08c808" fill-opacity="0.48" stroke="none"/>
<line x1="847.5" y1="449.2" x2="863.2" y2="444.4"/>
<line x1="863.2" y1="444.4" x2="883.1" y2="430.1"/>
<line x1="883.1" y1="430.1" x2="867.4" y2="427.9"/>
<line x1="867.4" y1="427.9" x2="847.5" y2="449.2"/>
<polygon points="863.2,444.4 878.9,439.0 898.8,421.1 883.1,430.1" fill="#08c808" fill-opacity="0.48" stroke="none"/>
<line x1="863.2" y1="444.4" x2="878.9" y2="439.0"/>
<line x1="878.9" y1="439.0" x2="898.8" y2="421.1"/>
<line x1="898.8" y1="421.1" x2="883.1" y2="430.1"/>
<line x1="883.1" y1="430.1" x2="863.2" y2="444.4"/>
<polygon points="878.9,439.0 894.6,441.2 914.5,432.4 898.8,421.1" fill="#08c808" fill-opacity="0.48" stroke="none"/>
<line x1="878.9" y1="439.0" x2="894.6" y2="441.2"/>
<line x1="894.6" y1="441.2" x2="914.5" y2="432.4"/>
<line x1="914.5" y1="432.4" x2="898.8" y2="421.1"/>
<line x1="898.8" y1="421.1" x2="878.9" y2="439.0"/>
<polygon points="894.6,441.2 910.3,462.5 930.2,431.9 914.5,432.4" fill="#08c808" fill-opacity="0.48" stroke="none"/>
<line x1="894.6" y1="441.2" x2="910.3" y2="462.5"/>
<line x1="910.3" y1="462.5" x2="930.2" y2="431.9"/>
<line x1="930.2" y1="431.9" x2="914.5" y2="432.4"/>
<line x1="914.5" y1="432.4" x2="894.6" y2="441.2"/>
<polygon points="639.4,447.1 655.1,457.8 675.0,427.8 659.3,416.3" fill="#08c808" fill-opacity="0.48" stroke="none"/>
<line x1="639.4" y1="447.1" x2="655.1" y2="457.8"/>
<line x1="655.1" y1="457.8" x2="675.0" y2="427.8"/>
<line x1="675.0" y1="427.8" x2="659.3" y2="416.3"/>
<line x1="659.3" y1="416.3" x2="639.4" y2="447.1"/>
<polygon points="655.1,457.8 670.7,465.5 690.6,420.7 675.0,427.8" fill="#08c808" fill-opacity="0.48" stroke="none"/>
<line x1="655.1" y1="457.8" x2="670.7" y2="465.5"/>
<line x1="670.7" y1="465.5" x2="690.6" y2="420.7"/>
<line x1="690.6" y1="420.7" x2="675.0" y2="427.8"/>
<line x1="675.0" y1="427.8" x2="655.1" y2="457.8"/>
<polygon points="623.7,390.2 639.4,447.1 659.3,416.3 643.6,361.6" fill="#08c808" fill-opacity="0.48" stroke="none"/>
<line x1="623.7" y1="390.2" x2="639.4" y2="447.1"/>
<line x1="639.4" y1="447.1" x2="659.3" y2="416.3"/>
<line x1="659.3" y1="416.3" x2="643.6" y2="361.6"/>
<line x1="643.6" y1="361.6" x2="623.7" y2="390.2"/>
<polygon points="670.7,465.5 686.4,471.0 706.3,417.2 690.6,420.7" fill="#08c808" fill-opacity="0.48" stroke="none"/>
<line x1="670.7" y1="465.5" x2="686.4" y2="471.0"/>
<line x1="686.4" y1="471.0" x2="706.3" y2="417.2"/>
<line x1="706.3" y1="417.2" x2="690.6" y2="420.7"/>
<line x1="690.6" y1="420.7" x2="670.7" y2="465.5"/>
<polygon points="608.0,363.1 623.7,390.2 643.6,361.6 627.9,335.6" fill="#08c808" fill-opacity="0.48" stroke="none"/>
<line x1="608.0" y1="363.1" x2="623.7" y2="390.2"/>
<line x1="623.7" y1="390.2" x2="643.6" y2="361.6"/>
<line x1="643.6" y1="361.6" x2="627.9" y2="335.6"/>
<line x1="627.9" y1="335.6" x2="608.0" y2="363.1"/>
<polygon points="686.4,471.0 702.1,475.4 722.0,431.4 706.3,417.2" fill="#08c808" fill-opacity="0.48" stroke="none"/>
<line x1="686.4" y1="471.0" x2="702.1" y2="475.4"/>
<line x1="702.1" y1="475.4" x2="722.0" y2="431.4"/>
<line x1="722.0" y1="431.4" x2="706.3" y2="417.2"/>
<line x1="706.3" y1="417.2" x2="686.4" y2="471.0"/>
<polygon points="592.3,316.8 608.0,363.1 627.9,335.6 612.2,307.4" fill="#08c808" fill-opacity="0.48" stroke="none"/>
<line x1="592.3" y1="316.8" x2="608.0" y2="363.1"/>
<line x1="608.0" y1="363.1" x2="627.9" y2="335.6"/>
<line x1="627.9" y1="335.6" x2="612.2" y2="307.4"/>
<line x1="612.2" y1="307.4" x2="592.3" y2="316.8"/>
<polygon points="702.1,475.4 717.8,477.8 737.7,428.7 722.0,431.4" fill="#08c808" fill-opacity="0.48" stroke="none"/>
<line x1="702.1" y1="475.4" x2="717.8" y2="477.8"/>
<line x1="717.8" y1="477.8" x2="737.7" y2="428.7"/>
<line x1="737.7" y1="428.7" x2="722.0" y2="431.4"/>
<line x1="722.0" y1="431.4" x2="702.1" y2="475.4"/>
<polygon points="717.8,477.8 733.5,478.2 753.4,434.0 737.7,428.7" fill="#08c808" fill-opacity="0.48" stroke="none"/>
<line x1="717.8" y1="477.8" x2="733.5" y2="478.2"/>
<line x1="733.5" y1="478.2" x2="753.4" y2="434.0"/>
<line x1="753.4" y1="434.0" x2="737.7" y2="428.7"/>
<line x1="737.7" y1="428.7" x2="717.8" y2="477.8"/>
<polygon points="733.5,478.2 749.2,478.3 769.1,423.4 753.4,434.0" fill="#08c808" fill-opacity="0.48" stroke="none"/>
<line x1="733.5" y1="478.2" x2="749.2" y2="478.3"/>
<line x1="749.2" y1="478.3" x2="769.1" y2="423.4"/>
<line x1="769.1" y1="423.4" x2="753.4" y2="434.0"/>
<line x1="753.4" y1="434.0" x2="733.5" y2="478.2"/>
<polygon points="749.2,478.3 764.9,478.5 784.8,435.8 769.1,423.4" fill="#08c808" fill-opacity="0.48" stroke="none"/>
<line x1="749.2" y1="478.3" x2="764.9" y2="478.5"/>
<line x1="764.9" y1="478.5" x2="784.8" y2="435.8"/>
<line x1="784.8" y1="435.8" x2="769.1" y2="423.4"/>
<line x1="769.1" y1="423.4" x2="749.2" y2="478.3"/>
<polygon points="764.9,478.5 780.6,479.1 800.5,439.3 784.8,435.8" fill="#08c808" fill-opacity="0.48" stroke="none"/>
<line x1="764.9" y1="478.5" x2="780.6" y2="479.1"/>
<line x1="780.6" y1="479.1" x2="800.5" y2="439.3"/>
<line x1="800.5" y1="439.3" x2="784.8" y2="435.8"/>
<line x1="784.8" y1="435.8" x2="764.9" y2="478.5"/>
<polygon points="780.6,479.1 796.3,479.9 816.2,452.4 800.5,439.3" fill="#08c808" fill-opacity="0.48" stroke="none"/>
<line x1="780.6" y1="479.1" x2="796.3" y2="479.9"/>
<line x1="796.3" y1="479.9" x2="816.2" y2="452.4"/>
<line x1="816.2" y1="452.4" x2="800.5" y2="439.3"/>
<line x1="800.5" y1="439.3" x2="780.6" y2="479.1"/>
<polygon points="796.3,479.9 812.0,482.1 831.9,451.2 816.2,452.4" fill="#08c808" fill-opacity="0.48" stroke="none"/>
<line x1="796.3" y1="479.9" x2="812.0" y2="482.1"/>
<line x1="812.0" y1="482.1" x2="831.9" y2="451.2"/>
<line x1="831.9" y1="451.2" x2="816.2" y2="452.4"/>
<line x1="816.2" y1="452.4" x2="796.3" y2="479.9"/>
<polygon points="812.0,482.1 827.6,484.0 847.5,449.2 831.9,451.2" fill="#08c808" fill-opacity="0.48" stroke="none"/>
<line x1="812.0" y1="482.1" x2="827.6" y2="484.0"/>
<line x1="827.6" y1="484.0" x2="847.5" y2="449.2"/>
<line x1="847.5" y1="449.2" x2="831.9" y2="451.2"/>
<line x1="831.9" y1="451.2" x2="812.0" y2="482.1"/>
<polygon points="827.6,484.0 843.3,484.8 863.2,444.4 847.5,449.2" fill="#08c808" fill-opacity="0.48" stroke="none"/>
<line x1="827.6" y1="484.0" x2="843.3" y2="484.8"/>
<line x1="843.3" y1="484.8" x2="863.2" y2="444.4"/>
<line x1="863.2" y1="444.4" x2="847.5" y2="449.2"/>
<line x1="847.5" y1="449.2" x2="827.6" y2="484.0"/>
<polygon points="843.3,484.8 859.0,485.4 878.9,439.0 863.2,444.4" fill="#08c808" fill-opacity="0.48" stroke="none"/>
<line x1="843.3" y1="484.8" x2="859.0" y2="485.4"/>
<line x1="859.0" y1="485.4" x2="878.9" y2="439.0"/>
<line x1="878.9" y1="439.0" x2="863.2" y2="444.4"/>
<line x1="863.2" y1="444.4" x2="843.3" y2="484.8"/>
<polygon points="859.0,485.4 874.7,487.4 894.6,441.2 878.9,439.0" fill="#08c808" fill-opacity="0.48" stroke="none"/>
<line x1="859.0" y1="485.4" x2="874.7" y2="487.4"/>
<line x1="874.7" y1="487.4" x2="894.6" y2="441.2"/>
<line x1="894.6" y1="441.2" x2="878.9" y2="439.0"/>
<line x1="878.9" y1="439.0" x2="859.0" y2="485.4"/>
<polygon points="874.7,487.4 890.4,489.1 910.3,462.5 894.6,441.2" fill="#08c808" fill-opacity="0.48" stroke="none"/>
<line x1="874.7" y1="487.4" x2="890.4" y2="489.1"/>
<line x1="890.4" y1="489.1" x2="910.3" y2="462.5"/>
<line x1="910.3" y1="462.5" x2="894.6" y2="441.2"/>
<line x1="894.6" y1="441.2" x2="874.7" y2="487.4"/>
<polygon points="619.5,462.1 635.2,475.2 655.1,457.8 639.4,447.1" fill="#08c808" fill-opacity="0.48" stroke="none"/>
<line x1="619.5" y1="462.1" x2="635.2" y2="475.2"/>
<line x1="635.2" y1="475.2" x2="655.1" y2="457.8"/>
<line x1="655.1" y1="457.8" x2="639.4" y2="447.1"/>
<line x1="639.4" y1="447.1" x2="619.5" y2="462.1"/>
<polygon points="635.2,475.2 650.8,480.7 670.7,465.5 655.1,457.8" fill="#08c808" fill-opacity="0.48" stroke="none"/>
<line x1="635.2" y1="475.2" x2="650.8" y2="480.7"/>
<line x1="650.8" y1="480.7" x2="670.7" y2="465.5"/>
<line x1="670.7" y1="465.5" x2="655.1" y2="457.8"/>
<line x1="655.1" y1="457.8" x2="635.2" y2="475.2"/>
<polygon points="603.8,404.5 619.5,462.1 639.4,447.1 623.7,390.2" fill="#08c808" fill-opacity="0.48" stroke="none"/>
<line x1="603.8" y1="404.5" x2="619.5" y2="462.1"/>
<line x1="619.5" y1="462.1" x2="639.4" y2="447.1"/>
<line x1="639.4" y1="447.1" x2="623.7" y2="390.2"/>
<line x1="623.7" y1="390.2" x2="603.8" y2="404.5"/>
<polygon points="650.8,480.7 666.5,484.0 686.4,471.0 670.7,465.5" fill="#08c808" fill-opacity="0.48" stroke="none"/>
<line x1="650.8" y1="480.7" x2="666.5" y2="484.0"/>
<line x1="666.5" y1="484.0" x2="686.4" y2="471.0"/>
<line x1="686.4" y1="471.0" x2="670.7" y2="465.5"/>
<line x1="670.7" y1="465.5" x2="650.8" y2="480.7"/>
<polygon points="666.5,484.0 682.2,487.9 702.1,475.4 686.4,471.0" fill="#08c808" fill-opacity="0.48" stroke="none"/>
<line x1="666.5" y1="484.0" x2="682.2" y2="487.9"/>
<line x1="682.2" y1="487.9" x2="702.1" y2="475.4"/>
<line x1="702.1" y1="475.4" x2="686.4" y2="471.0"/>
<line x1="686.4" y1="471.0" x2="666.5" y2="484.0"/>
<polygon points="588.1,374.0 603.8,404.5 623.7,390.2 608.0,363.1" fill="#08c808" fill-opacity="0.48" stroke="none"/>
<line x1="588.1" y1="374.0" x2="603.8" y2="404.5"/>
<line x1="603.8" y1="404.5" x2="623.7" y2="390.2"/>
<line x1="623.7" y1="390.2" x2="608.0" y2="363.1"/>
<line x1="608.0" y1="363.1" x2="588.1" y2="374.0"/>
<polygon points="682.2,487.9 697.9,488.8 717.8,477.8 702.1,475.4" fill="#08c808" fill-opacity="0.48" stroke="none"/>
<line x1="682.2" y1="487.9" x2="697.9" y2="488.8"/>
<line x1="697.9" y1="488.8" x2="717.8" y2="477.8"/>
<line x1="717.8" y1="477.8" x2="702.1" y2="475.4"/>
<line x1="702.1" y1="475.4" x2="682.2" y2="487.9"/>
<polygon points="572.4,345.8 588.1,374.0 608.0,363.1 592.3,316.8" fill="#08c808" fill-opacity="0.48" stroke="none"/>
<line x1="572.4" y1="345.8" x2="588.1" y2="374.0"/>
<line x1="588.1" y1="374.0" x2="608.0" y2="363.1"/>
<line x1="608.0" y1="363.1" x2="592.3" y2="316.8"/>
<line x1="592.3" y1="316.8" x2="572.4" y2="345.8"/>
<polygon points="697.9,488.8 713.6,489.8 733.5,478.2 717.8,477.8" fill="#08c808" fill-opacity="0.48" stroke="none"/>
<line x1="697.9" y1="488.8" x2="713.6" y2="489.8"/>
<line x1="713.6" y1="489.8" x2="733.5" y2="478.2"/>
<line x1="733.5" y1="478.2" x2="717.8" y2="477.8"/>
<line x1="717.8" y1="477.8" x2="697.9" y2="488.8"/>
<polygon points="713.6,489.8 729.3,490.9 749.2,478.3 733.5,478.2" fill="#08c808" fill-opacity="0.48" stroke="none"/>
<line x1="713.6" y1="489.8" x2="729.3" y2="490.9"/>
<line x1="729.3" y1="490.9" x2="749.2" y2="478.3"/>
<line x1="749.2" y1="478.3" x2="733.5" y2="478.2"/>
<line x1="733.5" y1="478.2" x2="713.6" y2="489.8"/>
<polygon points="729.3,490.9 745.0,493.2 764.9,478.5 749.2,478.3" fill="#08c808" fill-opacity="0.48" stroke="none"/>
<line x1="729.3" y1="490.9" x2="745.0" y2="493.2"/>
<line x1="745.0" y1="493.2" x2="764.9" y2="478.5"/>
<line x1="764.9" y1="478.5" x2="749.2" y2="478.3"/>
<line x1="749.2" y1="478.3" x2="729.3" y2="490.9"/>
<polygon points="745.0,493.2 760.7,495.9 780.6,479.1 764.9,478.5" fill="#08c808" fill-opacity="0.48" stroke="none"/>
<line x1="745.0" y1="493.2" x2="760.7" y2="495.9"/>
<line x1="760.7" y1="495.9" x2="780.6" y2="479.1"/>
<line x1="780.6" y1="479.1" x2="764.9" y2="478.5"/>
<line x1="764.9" y1="478.5" x2="745.0" y2="493.2"/>
<polygon points="760.7,495.9 776.4,498.5 796.3,479.9 780.6,479.1" fill="#08c808" fill-opacity="0.48" stroke="none"/>
<line x1="760.7" y1="495.9" x2="776.4" y2="498.5"/>
<line x1="776.4" y1="498.5" x2="796.3" y2="479.9"/>
<line x1="796.3" y1="479.9" x2="780.6" y2="479.1"/>
<line x1="780.6" y1="479.1" x2="760.7" y2="495.9"/>
<polygon points="776.4,498.5 792.1,501.3 812.0,482.1 796.3,479.9" fill="#08c808" fill-opacity="0.48" stroke="none"/>
<line x1="776.4" y1="498.5" x2="792.1" y2="501.3"/>
<line x1="792.1" y1="501.3" x2="812.0" y2="482.1"/>
<line x1="812.0" y1="482.1" x2="796.3" y2="479.9"/>
<line x1="796.3" y1="479.9" x2="776.4" y2="498.5"/>
<polygon points="792.1,501.3 807.7,502.8 827.6,484.0 812.0,482.1" fill="#08c808" fill-opacity="0.48" stroke="none"/>
<line x1="792.1" y1="501.3" x2="807.7" y2="502.8"/>
<line x1="807.7" y1="502.8" x2="827.6" y2="484.0"/>
<line x1="827.6" y1="484.0" x2="812.0" y2="482.1"/>
<line x1="812.0" y1="482.1" x2="792.1" y2="501.3"/>
<polygon points="807.7,502.8 823.4,504.3 843.3,484.8 827.6,484.0" fill="#08c808" fill-opacity="0.48" stroke="none"/>
<line x1="807.7" y1="502.8" x2="823.4" y2="504.3"/>
<line x1="823.4" y1="504.3" x2="843.3" y2="484.8"/>
<line x1="843.3" y1="484.8" x2="827.6" y2="484.0"/>
<line x1="827.6" y1="484.0" x2="807.7" y2="502.8"/>
<polygon points="823.4,504.3 839.1,505.5 859.0,485.4 843.3,484.8" fill="#08c808" fill-opacity="0.48" stroke="none"/>
<line x1="823.4" y1="504.3" x2="839.1" y2="505.5"/>
<line x1="839.1" y1="505.5" x2="859.0" y2="485.4"/>
<line x1="859.0" y1="485.4" x2="843.3" y2="484.8"/>
<line x1="843.3" y1="484.8" x2="823.4" y2="504.3"/>
<polygon points="839.1,505.5 854.8,507.3 874.7,487.4 859.0,485.4" fill="#08c808" fill-opacity="0.48" stroke="none"/>
<line x1="839.1" y1="505.5" x2="854.8" y2="507.3"/>
<line x1="854.8" y1="507.3" x2="874.7" y2="487.4"/>
<line x1="874.7" y1="487.4" x2="859.0" y2="485.4"/>
<line x1="859.0" y1="485.4" x2="839.1" y2="505.5"/>
<polygon points="854.8,507.3 870.5,510.1 890.4,489.1 874.7,487.4" fill="#08c808" fill-opacity="0.48" stroke="none"/>
<line x1="854.8" y1="507.3" x2="870.5" y2="510.1"/>
<line x1="870.5" y1="510.1" x2="890.4" y2="489.1"/>
<line x1="890.4" y1="489.1" x2="874.7" y2="487.4"/>
<line x1="874.7" y1="487.4" x2="854.8" y2="507.3"/>
<polygon points="599.6,475.4 615.3,491.1 635.2,475.2 619.5,462.1" fill="#08c808" fill-opacity="0.48" stroke="none"/>
<line x1="599.6" y1="475.4" x2="615.3" y2="491.1"/>
<line x1="615.3" y1="491.1" x2="635.2" y2="475.2"/>
<line x1="635.2" y1="475.2" x2="619.5" y2="462.1"/>
<line x1="619.5" y1="462.1" x2="599.6" y2="475.4"/>
<polygon points="615.3,491.1 630.9,499.7 650.8,480.7 635.2,475.2" fill="#08c808" fill-opacity="0.48" stroke="none"/>
<line x1="615.3" y1="491.1" x2="630.9" y2="499.7"/>
<line x1="630.9" y1="499.7" x2="650.8" y2="480.7"/>
<line x1="650.8" y1="480.7" x2="635.2" y2="475.2"/>
<line x1="635.2" y1="475.2" x2="615.3" y2="491.1"/>
<polygon points="583.9,450.0 599.6,475.4 619.5,462.1 603.8,404.5" fill="#08c808" fill-opacity="0.48" stroke="none"/>
<line x1="583.9" y1="450.0" x2="599.6" y2="475.4"/>
<line x1="599.6" y1="475.4" x2="619.5" y2="462.1"/>
<line x1="619.5" y1="462.1" x2="603.8" y2="404.5"/>
<line x1="603.8" y1="404.5" x2="583.9" y2="450.0"/>
<polygon points="630.9,499.7 646.6,503.0 666.5,484.0 650.8,480.7" fill="#08c808" fill-opacity="0.48" stroke="none"/>
<line x1="630.9" y1="499.7" x2="646.6" y2="503.0"/>
<line x1="646.6" y1="503.0" x2="666.5" y2="484.0"/>
<line x1="666.5" y1="484.0" x2="650.8" y2="480.7"/>
<line x1="650.8" y1="480.7" x2="630.9" y2="499.7"/>
<polygon points="646.6,503.0 662.3,505.6 682.2,487.9 666.5,484.0" fill="#08c808" fill-opacity="0.48" stroke="none"/>
<line x1="646.6" y1="503.0" x2="662.3" y2="505.6"/>
<line x1="662.3" y1="505.6" x2="682.2" y2="487.9"/>
<line x1="682.2" y1="487.9" x2="666.5" y2="484.0"/>
<line x1="666.5" y1="484.0" x2="646.6" y2="503.0"/>
<polygon points="568.2,375.5 583.9,450.0 603.8,404.5 588.1,374.0" fill="#08c808" fill-opacity="0.48" stroke="none"/>
<line x1="568.2" y1="375.5" x2="583.9" y2="450.0"/>
<line x1="583.9" y1="450.0" x2="603.8" y2="404.5"/>
<line x1="603.8" y1="404.5" x2="588.1" y2="374.0"/>
<line x1="588.1" y1="374.0" x2="568.2" y2="375.5"/>
<polygon points="662.3,505.6 678.0,508.9 697.9,488.8 682.2,487.9" fill="#08c808" fill-opacity="0.48" stroke="none"/>
<line x1="662.3" y1="505.6" x2="678.0" y2="508.9"/>
<line x1="678.0" y1="508.9" x2="697.9" y2="488.8"/>
<line x1="697.9" y1="488.8" x2="682.2" y2="487.9"/>
<line x1="682.2" y1="487.9" x2="662.3" y2="505.6"/>
<polygon points="552.5,361.9 568.2,375.5 588.1,374.0 572.4,345.8" fill="#08c808" fill-opacity="0.48" stroke="none"/>
<line x1="552.5" y1="361.9" x2="568.2" y2="375.5"/>
<line x1="568.2" y1="375.5" x2="588.1" y2="374.0"/>
<line x1="588.1" y1="374.0" x2="572.4" y2="345.8"/>
<line x1="572.4" y1="345.8" x2="552.5" y2="361.9"/>
<polygon points="678.0,508.9 693.7,510.4 713.6,489.8 697.9,488.8" fill="#08c808" fill-opacity="0.48" stroke="none"/>
<line x1="678.0" y1="508.9" x2="693.7" y2="510.4"/>
<line x1="693.7" y1="510.4" x2="713.6" y2="489.8"/>
<line x1="713.6" y1="489.8" x2="697.9" y2="488.8"/>
<line x1="697.9" y1="488.8" x2="678.0" y2="508.9"/>
<polygon points="693.7,510.4 709.4,511.9 729.3,490.9 713.6,489.8" fill="#08c808" fill-opacity="0.48" stroke="none"/>
<line x1="693.7" y1="510.4" x2="709.4" y2="511.9"/>
<line x1="709.4" y1="511.9" x2="729.3" y2="490.9"/>
<line x1="729.3" y1="490.9" x2="713.6" y2="489.8"/>
<line x1="713.6" y1="489.8" x2="693.7" y2="510.4"/>
<polygon points="709.4,511.9 725.1,514.0 745.0,493.2 729.3,490.9" fill="#08c808" fill-opacity="0.48" stroke="none"/>
<line x1="709.4" y1="511.9" x2="725.1" y2="514.0"/>
<line x1="725.1" y1="514.0" x2="745.0" y2="493.2"/>
<line x1="745.0" y1="493.2" x2="729.3" y2="490.9"/>
<line x1="729.3" y1="490.9" x2="709.4" y2="511.9"/>
<polygon points="725.1,514.0 740.8,516.0 760.7,495.9 745.0,493.2" fill="#08c808" fill-opacity="0.48" stroke="none"/>
<line x1="725.1" y1="514.0" x2="740.8" y2="516.0"/>
<line x1="740.8" y1="516.0" x2="760.7" y2="495.9"/>
<line x1="760.7" y1="495.9" x2="745.0" y2="493.2"/>
<line x1="745.0" y1="493.2" x2="725.1" y2="514.0"/>
<polygon points="740.8,516.0 756.5,517.9 776.4,498.5 760.7,495.9" fill="#08c808" fill-opacity="0.48" stroke="none"/>
<line x1="740.8" y1="516.0" x2="756.5" y2="517.9"/>
<line x1="756.5" y1="517.9" x2="776.4" y2="498.5"/>
<line x1="776.4" y1="498.5" x2="760.7" y2="495.9"/>
<line x1="760.7" y1="495.9" x2="740.8" y2="516.0"/>
<polygon points="756.5,517.9 772.2,520.5 792.1,501.3 776.4,498.5" fill="#08c808" fill-opacity="0.48" stroke="none"/>
<line x1="756.5" y1="517.9" x2="772.2" y2="520.5"/>
<line x1="772.2" y1="520.5" x2="792.1" y2="501.3"/>
<line x1="792.1" y1="501.3" x2="776.4" y2="498.5"/>
<line x1="776.4" y1="498.5" x2="756.5" y2="517.9"/>
<polygon points="772.2,520.5 787.8,522.5 807.7,502.8 792.1,501.3" fill="#08c808" fill-opacity="0.48" stroke="none"/>
<line x1="772.2" y1="520.5" x2="787.8" y2="522.5"/>
<line x1="787.8" y1="522.5" x2="807.7" y2="502.8"/>
<line x1="807.7" y1="502.8" x2="792.1" y2="501.3"/>
<line x1="792.1" y1="501.3" x2="772.2" y2="520.5"/>
<polygon points="787.8,522.5 803.5,524.0 823.4,504.3 807.7,502.8" fill="#08c808" fill-opacity="0.48" stroke="none"/>
<line x1="787.8" y1="522.5" x2="803.5" y2="524.0"/>
<line x1="803.5" y1="524.0" x2="823.4" y2="504.3"/>
<line x1="823.4" y1="504.3" x2="807.7" y2="502.8"/>
<line x1="807.7" y1="502.8" x2="787.8" y2="522.5"/>
<polygon points="803.5,524.0 819.2,524.8 839.1,505.5 823.4,504.3" fill="#08c808" fill-opacity="0.48" stroke="none"/>
<line x1="803.5" y1="524.0" x2="819.2" y2="524.8"/>
<line x1="819.2" y1="524.8" x2="839.1" y2="505.5"/>
<line x1="839.1" y1="505.5" x2="823.4" y2="504.3"/>
<line x1="823.4" y1="504.3" x2="803.5" y2="524.0"/>
<polygon points="819.2,524.8 834.9,525.6 854.8,507.3 839.1,505.5" fill="#08c808" fill-opacity="0.48" stroke="none"/>
<line x1="819.2" y1="524.8" x2="834.9" y2="525.6"/>
<line x1="834.9" y1="525.6" x2="854.8" y2="507.3"/>
<line x1="854.8" y1="507.3" x2="839.1" y2="505.5"/>
<line x1="839.1" y1="505.5" x2="819.2" y2="524.8"/>
<polygon points="834.9,525.6 850.6,529.1 870.5,510.1 854.8,507.3" fill="#08c808" fill-opacity="0.48" stroke="none"/>
<line x1="834.9" y1="525.6" x2="850.6" y2="529.1"/>
<line x1="850.6" y1="529.1" x2="870.5" y2="510.1"/>
<line x1="870.5" y1="510.1" x2="854.8" y2="507.3"/>
<line x1="854.8" y1="507.3" x2="834.9" y2="525.6"/></g>
<g stroke="#f00000" stroke-width="1.7" stroke-linecap="round"><polygon points="1110.5,389.1 1126.1,390.1 1146.0,318.5 1130.4,318.6" fill="#ff0000" fill-opacity="0.48" stroke="none"/>
<line x1="1110.5" y1="389.1" x2="1126.1" y2="390.1"/>
<line x1="1126.1" y1="390.1" x2="1146.0" y2="318.5"/>
<line x1="1146.0" y1="318.5" x2="1130.4" y2="318.6"/>
<line x1="1130.4" y1="318.6" x2="1110.5" y2="389.1"/>
<polygon points="1126.1,390.1 1141.8,397.2 1161.7,322.5 1146.0,318.5" fill="#ff0000" fill-opacity="0.48" stroke="none"/>
<line x1="1126.1" y1="390.1" x2="1141.8" y2="397.2"/>
<line x1="1141.8" y1="397.2" x2="1161.7" y2="322.5"/>
<line x1="1161.7" y1="322.5" x2="1146.0" y2="318.5"/>
<line x1="1146.0" y1="318.5" x2="1126.1" y2="390.1"/>
<polygon points="1141.8,397.2 1157.5,403.4 1177.4,322.4 1161.7,322.5" fill="#ff0000" fill-opacity="0.48" stroke="none"/>
<line x1="1141.8" y1="397.2" x2="1157.5" y2="403.4"/>
<line x1="1157.5" y1="403.4" x2="1177.4" y2="322.4"/>
<line x1="1177.4" y1="322.4" x2="1161.7" y2="322.5"/>
<line x1="1161.7" y1="322.5" x2="1141.8" y2="397.2"/>
<polygon points="1157.5,403.4 1173.2,408.9 1193.1,333.9 1177.4,322.4" fill="#ff0000" fill-opacity="0.48" stroke="none"/>
<line x1="1157.5" y1="403.4" x2="1173.2" y2="408.9"/>
<line x1="1173.2" y1="408.9" x2="1193.1" y2="333.9"/>
<line x1="1193.1" y1="333.9" x2="1177.4" y2="322.4"/>
<line x1="1177.4" y1="322.4" x2="1157.5" y2="403.4"/>
<polygon points="1173.2,408.9 1188.9,410.4 1208.8,333.9 1193.1,333.9" fill="#ff0000" fill-opacity="0.48" stroke="none"/>
<line x1="1173.2" y1="408.9" x2="1188.9" y2="410.4"/>
<line x1="1188.9" y1="410.4" x2="1208.8" y2="333.9"/>
<line x1="1208.8" y1="333.9" x2="1193.1" y2="333.9"/>
<line x1="1193.1" y1="333.9" x2="1173.2" y2="408.9"/>
<polygon points="1188.9,410.4 1204.6,412.3 1224.5,337.8 1208.8,333.9" fill="#ff0000" fill-opacity="0.48" stroke="none"/>
<line x1="1188.9" y1="410.4" x2="1204.6" y2="412.3"/>
<line x1="1204.6" y1="412.3" x2="1224.5" y2="337.8"/>
<line x1="1224.5" y1="337.8" x2="1208.8" y2="333.9"/>
<line x1="1208.8" y1="333.9" x2="1188.9" y2="410.4"/>
<polygon points="1204.6,412.3 1220.3,406.7 1240.2,334.0 1224.5,337.8" fill="#ff0000" fill-opacity="0.48" stroke="none"/>
<line x1="1204.6" y1="412.3" x2="1220.3" y2="406.7"/>
<line x1="1220.3" y1="406.7" x2="1240.2" y2="334.0"/>
<line x1="1240.2" y1="334.0" x2="1224.5" y2="337.8"/>
<line x1="1224.5" y1="337.8" x2="1204.6" y2="412.3"/>
<polygon points="1220.3,406.7 1236.0,420.0 1255.9,341.7 1240.2,334.0" fill="#ff0000" fill-opacity="0.48" stroke="none"/>
<line x1="1220.3" y1="406.7" x2="1236.0" y2="420.0"/>
<line x1="1236.0" y1="420.0" x2="1255.9" y2="341.7"/>
<line x1="1255.9" y1="341.7" x2="1240.2" y2="334.0"/>
<line x1="1240.2" y1="334.0" x2="1220.3" y2="406.7"/>
<polygon points="1236.0,420.0 1251.7,422.1 1271.6,343.6 1255.9,341.7" fill="#ff0000" fill-opacity="0.48" stroke="none"/>
<line x1="1236.0" y1="420.0" x2="1251.7" y2="422.1"/>
<line x1="1251.7" y1="422.1" x2="1271.6" y2="343.6"/>
<line x1="1271.6" y1="343.6" x2="1255.9" y2="341.7"/>
<line x1="1255.9" y1="341.7" x2="1236.0" y2="420.0"/>
<polygon points="1105.7,266.2 1110.5,389.1 1130.4,318.6 1122.4,248.6" fill="#ff0000" fill-opacity="0.48" stroke="none"/>
<line x1="1105.7" y1="266.2" x2="1110.5" y2="389.1"/>
<line x1="1110.5" y1="389.1" x2="1130.4" y2="318.6"/>
<line x1="1130.4" y1="318.6" x2="1122.4" y2="248.6"/>
<polygon points="1251.7,422.1 1267.4,424.1 1287.3,343.6 1271.6,343.6" fill="#ff0000" fill-opacity="0.48" stroke="none"/>
<line x1="1251.7" y1="422.1" x2="1267.4" y2="424.1"/>
<line x1="1267.4" y1="424.1" x2="1287.3" y2="343.6"/>
<line x1="1287.3" y1="343.6" x2="1271.6" y2="343.6"/>
<line x1="1271.6" y1="343.6" x2="1251.7" y2="422.1"/>
<polygon points="1267.4,424.1 1283.0,426.2 1302.9,345.3 1287.3,343.6" fill="#ff0000" fill-opacity="0.48" stroke="none"/>
<line x1="1267.4" y1="424.1" x2="1283.0" y2="426.2"/>
<line x1="1283.0" y1="426.2" x2="1302.9" y2="345.3"/>
<line x1="1302.9" y1="345.3" x2="1287.3" y2="343.6"/>
<line x1="1287.3" y1="343.6" x2="1267.4" y2="424.1"/>
<polygon points="1283.0,426.2 1298.7,428.4 1318.6,349.2 1302.9,345.3" fill="#ff0000" fill-opacity="0.48" stroke="none"/>
<line x1="1283.0" y1="426.2" x2="1298.7" y2="428.4"/>
<line x1="1298.7" y1="428.4" x2="1318.6" y2="349.2"/>
<line x1="1318.6" y1="349.2" x2="1302.9" y2="345.3"/>
<line x1="1302.9" y1="345.3" x2="1283.0" y2="426.2"/>
<polygon points="1298.7,428.4 1314.4,429.7 1334.3,349.2 1318.6,349.2" fill="#ff0000" fill-opacity="0.48" stroke="none"/>
<line x1="1298.7" y1="428.4" x2="1314.4" y2="429.7"/>
<line x1="1314.4" y1="429.7" x2="1334.3" y2="349.2"/>
<line x1="1334.3" y1="349.2" x2="1318.6" y2="349.2"/>
<line x1="1318.6" y1="349.2" x2="1298.7" y2="428.4"/>
<polygon points="1314.4,429.7 1330.1,427.8 1350.0,350.4 1334.3,349.2" fill="#ff0000" fill-opacity="0.48" stroke="none"/>
<line x1="1314.4" y1="429.7" x2="1330.1" y2="427.8"/>
<line x1="1330.1" y1="427.8" x2="1350.0" y2="350.4"/>
<line x1="1350.0" y1="350.4" x2="1334.3" y2="349.2"/>
<line x1="1334.3" y1="349.2" x2="1314.4" y2="429.7"/>
<polygon points="1330.1,427.8 1345.8,428.2 1365.7,350.4 1350.0,350.4" fill="#ff0000" fill-opacity="0.48" stroke="none"/>
<line x1="1330.1" y1="427.8" x2="1345.8" y2="428.2"/>
<line x1="1345.8" y1="428.2" x2="1365.7" y2="350.4"/>
<line x1="1365.7" y1="350.4" x2="1350.0" y2="350.4"/>
<line x1="1350.0" y1="350.4" x2="1330.1" y2="427.8"/>
<polygon points="1090.6,448.9 1106.2,452.1 1126.1,390.1 1110.5,389.1" fill="#ff0000" fill-opacity="0.48" stroke="none"/>
<line x1="1090.6" y1="448.9" x2="1106.2" y2="452.1"/>
<line x1="1106.2" y1="452.1" x2="1126.1" y2="390.1"/>
<line x1="1126.1" y1="390.1" x2="1110.5" y2="389.1"/>
<line x1="1110.5" y1="389.1" x2="1090.6" y2="448.9"/>
<polygon points="1106.2,452.1 1121.9,463.4 1141.8,397.2 1126.1,390.1" fill="#ff0000" fill-opacity="0.48" stroke="none"/>
<line x1="1106.2" y1="452.1" x2="1121.9" y2="463.4"/>
<line x1="1121.9" y1="463.4" x2="1141.8" y2="397.2"/>
<line x1="1141.8" y1="397.2" x2="1126.1" y2="390.1"/>
<line x1="1126.1" y1="390.1" x2="1106.2" y2="452.1"/>
<polygon points="1105.0,247.4 1099.0,288.4 1097.3,248.5" fill="#ff0000" fill-opacity="0.48" stroke="none"/>
<line x1="1105.0" y1="247.4" x2="1099.0" y2="288.4"/>
<line x1="1099.0" y1="288.4" x2="1097.3" y2="248.5"/>
<polygon points="1097.3,248.5 1099.0,288.4 1083.3,248.2 1083.2,246.0" fill="#ff0000" fill-opacity="0.48" stroke="none"/>
<line x1="1097.3" y1="248.5" x2="1099.0" y2="288.4"/>
<line x1="1099.0" y1="288.4" x2="1083.3" y2="248.2"/>
<line x1="1083.3" y1="248.2" x2="1083.2" y2="246.0"/>
<polygon points="1121.9,463.4 1137.6,463.1 1157.5,403.4 1141.8,397.2" fill="#ff0000" fill-opacity="0.48" stroke="none"/>
<line x1="1121.9" y1="463.4" x2="1137.6" y2="463.1"/>
<line x1="1137.6" y1="463.1" x2="1157.5" y2="403.4"/>
<line x1="1157.5" y1="403.4" x2="1141.8" y2="397.2"/>
<line x1="1141.8" y1="397.2" x2="1121.9" y2="463.4"/>
<polygon points="1137.6,463.1 1153.3,466.4 1173.2,408.9 1157.5,403.4" fill="#ff0000" fill-opacity="0.48" stroke="none"/>
<line x1="1137.6" y1="463.1" x2="1153.3" y2="466.4"/>
<line x1="1153.3" y1="466.4" x2="1173.2" y2="408.9"/>
<line x1="1173.2" y1="408.9" x2="1157.5" y2="403.4"/>
<line x1="1157.5" y1="403.4" x2="1137.6" y2="463.1"/>
<polygon points="1153.3,466.4 1169.0,467.5 1188.9,410.4 1173.2,408.9" fill="#ff0000" fill-opacity="0.48" stroke="none"/>
<line x1="1153.3" y1="466.4" x2="1169.0" y2="467.5"/>
<line x1="1169.0" y1="467.5" x2="1188.9" y2="410.4"/>
<line x1="1188.9" y1="410.4" x2="1173.2" y2="408.9"/>
<line x1="1173.2" y1="408.9" x2="1153.3" y2="466.4"/>
<polygon points="1169.0,467.5 1184.7,470.7 1204.6,412.3 1188.9,410.4" fill="#ff0000" fill-opacity="0.48" stroke="none"/>
<line x1="1169.0" y1="467.5" x2="1184.7" y2="470.7"/>
<line x1="1184.7" y1="470.7" x2="1204.6" y2="412.3"/>
<line x1="1204.6" y1="412.3" x2="1188.9" y2="410.4"/>
<line x1="1188.9" y1="410.4" x2="1169.0" y2="467.5"/>
<polygon points="1184.7,470.7 1200.4,469.6 1220.3,406.7 1204.6,412.3" fill="#ff0000" fill-opacity="0.48" stroke="none"/>
<line x1="1184.7" y1="470.7" x2="1200.4" y2="469.6"/>
<line x1="1200.4" y1="469.6" x2="1220.3" y2="406.7"/>
<line x1="1220.3" y1="406.7" x2="1204.6" y2="412.3"/>
<line x1="1204.6" y1="412.3" x2="1184.7" y2="470.7"/>
<polygon points="1200.4,469.6 1216.1,472.8 1236.0,420.0 1220.3,406.7" fill="#ff0000" fill-opacity="0.48" stroke="none"/>
<line x1="1200.4" y1="469.6" x2="1216.1" y2="472.8"/>
<line x1="1216.1" y1="472.8" x2="1236.0" y2="420.0"/>
<line x1="1236.0" y1="420.0" x2="1220.3" y2="406.7"/>
<line x1="1220.3" y1="406.7" x2="1200.4" y2="469.6"/>
<polygon points="1216.1,472.8 1231.8,473.9 1251.7,422.1 1236.0,420.0" fill="#ff0000" fill-opacity="0.48" stroke="none"/>
<line x1="1216.1" y1="472.8" x2="1231.8" y2="473.9"/>
<line x1="1231.8" y1="473.9" x2="1251.7" y2="422.1"/>
<line x1="1251.7" y1="422.1" x2="1236.0" y2="420.0"/>
<line x1="1236.0" y1="420.0" x2="1216.1" y2="472.8"/>
<polygon points="1083.2,246.0 1083.3,248.2 1083.2,245.9" fill="#ff0000" fill-opacity="0.48" stroke="none"/>
<line x1="1083.2" y1="246.0" x2="1083.3" y2="248.2"/>
<line x1="1083.3" y1="248.2" x2="1083.2" y2="245.9"/>
<polygon points="1231.8,473.9 1247.5,477.2 1267.4,424.1 1251.7,422.1" fill="#ff0000" fill-opacity="0.48" stroke="none"/>
<line x1="1231.8" y1="473.9" x2="1247.5" y2="477.2"/>
<line x1="1247.5" y1="477.2" x2="1267.4" y2="424.1"/>
<line x1="1267.4" y1="424.1" x2="1251.7" y2="422.1"/>
<line x1="1251.7" y1="422.1" x2="1231.8" y2="473.9"/>
<polygon points="1247.5,477.2 1263.1,478.2 1283.0,426.2 1267.4,424.1" fill="#ff0000" fill-opacity="0.48" stroke="none"/>
<line x1="1247.5" y1="477.2" x2="1263.1" y2="478.2"/>
<line x1="1263.1" y1="478.2" x2="1283.0" y2="426.2"/>
<line x1="1283.0" y1="426.2" x2="1267.4" y2="424.1"/>
<line x1="1267.4" y1="424.1" x2="1247.5" y2="477.2"/>
<polygon points="1080.5,283.3 1090.6,448.9 1110.5,389.1 1105.7,266.2" fill="#ff0000" fill-opacity="0.48" stroke="none"/>
<line x1="1080.5" y1="283.3" x2="1090.6" y2="448.9"/>
<line x1="1090.6" y1="448.9" x2="1110.5" y2="389.1"/>
<line x1="1110.5" y1="389.1" x2="1105.7" y2="266.2"/>
<polygon points="1263.1,478.2 1278.8,479.3 1298.7,428.4 1283.0,426.2" fill="#ff0000" fill-opacity="0.48" stroke="none"/>
<line x1="1263.1" y1="478.2" x2="1278.8" y2="479.3"/>
<line x1="1278.8" y1="479.3" x2="1298.7" y2="428.4"/>
<line x1="1298.7" y1="428.4" x2="1283.0" y2="426.2"/>
<line x1="1283.0" y1="426.2" x2="1263.1" y2="478.2"/>
<polygon points="1278.8,479.3 1294.5,481.4 1314.4,429.7 1298.7,428.4" fill="#ff0000" fill-opacity="0.48" stroke="none"/>
<line x1="1278.8" y1="479.3" x2="1294.5" y2="481.4"/>
<line x1="1294.5" y1="481.4" x2="1314.4" y2="429.7"/>
<line x1="1314.4" y1="429.7" x2="1298.7" y2="428.4"/>
<line x1="1298.7" y1="428.4" x2="1278.8" y2="479.3"/>
<polygon points="1294.5,481.4 1310.2,482.5 1330.1,427.8 1314.4,429.7" fill="#ff0000" fill-opacity="0.48" stroke="none"/>
<line x1="1294.5" y1="481.4" x2="1310.2" y2="482.5"/>
<line x1="1310.2" y1="482.5" x2="1330.1" y2="427.8"/>
<line x1="1330.1" y1="427.8" x2="1314.4" y2="429.7"/>
<line x1="1314.4" y1="429.7" x2="1294.5" y2="481.4"/>
<polygon points="1310.2,482.5 1325.9,483.5 1345.8,428.2 1330.1,427.8" fill="#ff0000" fill-opacity="0.48" stroke="none"/>
<line x1="1310.2" y1="482.5" x2="1325.9" y2="483.5"/>
<line x1="1325.9" y1="483.5" x2="1345.8" y2="428.2"/>
<line x1="1345.8" y1="428.2" x2="1330.1" y2="427.8"/>
<line x1="1330.1" y1="427.8" x2="1310.2" y2="482.5"/>
<polygon points="1070.7,473.0 1086.3,465.4 1106.2,452.1 1090.6,448.9" fill="#ff0000" fill-opacity="0.48" stroke="none"/>
<line x1="1070.7" y1="473.0" x2="1086.3" y2="465.4"/>
<line x1="1086.3" y1="465.4" x2="1106.2" y2="452.1"/>
<line x1="1106.2" y1="452.1" x2="1090.6" y2="448.9"/>
<line x1="1090.6" y1="448.9" x2="1070.7" y2="473.0"/>
<polygon points="1086.3,465.4 1102.0,481.8 1121.9,463.4 1106.2,452.1" fill="#ff0000" fill-opacity="0.48" stroke="none"/>
<line x1="1086.3" y1="465.4" x2="1102.0" y2="481.8"/>
<line x1="1102.0" y1="481.8" x2="1121.9" y2="463.4"/>
<line x1="1121.9" y1="463.4" x2="1106.2" y2="452.1"/>
<line x1="1106.2" y1="452.1" x2="1086.3" y2="465.4"/>
<polygon points="1102.0,481.8 1117.7,482.8 1137.6,463.1 1121.9,463.4" fill="#ff0000" fill-opacity="0.48" stroke="none"/>
<line x1="1102.0" y1="481.8" x2="1117.7" y2="482.8"/>
<line x1="1117.7" y1="482.8" x2="1137.6" y2="463.1"/>
<line x1="1137.6" y1="463.1" x2="1121.9" y2="463.4"/>
<line x1="1121.9" y1="463.4" x2="1102.0" y2="481.8"/>
<polygon points="1117.7,482.8 1133.4,486.1 1153.3,466.4 1137.6,463.1" fill="#ff0000" fill-opacity="0.48" stroke="none"/>
<line x1="1117.7" y1="482.8" x2="1133.4" y2="486.1"/>
<line x1="1133.4" y1="486.1" x2="1153.3" y2="466.4"/>
<line x1="1153.3" y1="466.4" x2="1137.6" y2="463.1"/>
<line x1="1137.6" y1="463.1" x2="1117.7" y2="482.8"/>
<polygon points="1133.4,486.1 1149.1,484.9 1169.0,467.5 1153.3,466.4" fill="#ff0000" fill-opacity="0.48" stroke="none"/>
<line x1="1133.4" y1="486.1" x2="1149.1" y2="484.9"/>
<line x1="1149.1" y1="484.9" x2="1169.0" y2="467.5"/>
<line x1="1169.0" y1="467.5" x2="1153.3" y2="466.4"/>
<line x1="1153.3" y1="466.4" x2="1133.4" y2="486.1"/>
<polygon points="1149.1,484.9 1164.8,490.4 1184.7,470.7 1169.0,467.5" fill="#ff0000" fill-opacity="0.48" stroke="none"/>
<line x1="1149.1" y1="484.9" x2="1164.8" y2="490.4"/>
<line x1="1164.8" y1="490.4" x2="1184.7" y2="470.7"/>
<line x1="1184.7" y1="470.7" x2="1169.0" y2="467.5"/>
<line x1="1169.0" y1="467.5" x2="1149.1" y2="484.9"/>
<polygon points="1164.8,490.4 1180.5,489.2 1200.4,469.6 1184.7,470.7" fill="#ff0000" fill-opacity="0.48" stroke="none"/>
<line x1="1164.8" y1="490.4" x2="1180.5" y2="489.2"/>
<line x1="1180.5" y1="489.2" x2="1200.4" y2="469.6"/>
<line x1="1200.4" y1="469.6" x2="1184.7" y2="470.7"/>
<line x1="1184.7" y1="470.7" x2="1164.8" y2="490.4"/>
<polygon points="1180.5,489.2 1196.2,492.5 1216.1,472.8 1200.4,469.6" fill="#ff0000" fill-opacity="0.48" stroke="none"/>
<line x1="1180.5" y1="489.2" x2="1196.2" y2="492.5"/>
<line x1="1196.2" y1="492.5" x2="1216.1" y2="472.8"/>
<line x1="1216.1" y1="472.8" x2="1200.4" y2="469.6"/>
<line x1="1200.4" y1="469.6" x2="1180.5" y2="489.2"/>
<polygon points="1196.2,492.5 1211.9,493.6 1231.8,473.9 1216.1,472.8" fill="#ff0000" fill-opacity="0.48" stroke="none"/>
<line x1="1196.2" y1="492.5" x2="1211.9" y2="493.6"/>
<line x1="1211.9" y1="493.6" x2="1231.8" y2="473.9"/>
<line x1="1231.8" y1="473.9" x2="1216.1" y2="472.8"/>
<line x1="1216.1" y1="472.8" x2="1196.2" y2="492.5"/>
<polygon points="1211.9,493.6 1227.6,494.6 1247.5,477.2 1231.8,473.9" fill="#ff0000" fill-opacity="0.48" stroke="none"/>
<line x1="1211.9" y1="493.6" x2="1227.6" y2="494.6"/>
<line x1="1227.6" y1="494.6" x2="1247.5" y2="477.2"/>
<line x1="1247.5" y1="477.2" x2="1231.8" y2="473.9"/>
<line x1="1231.8" y1="473.9" x2="1211.9" y2="493.6"/>
<polygon points="1063.4,301.0 1070.7,473.0 1090.6,448.9 1080.5,283.3" fill="#ff0000" fill-opacity="0.48" stroke="none"/>
<line x1="1063.4" y1="301.0" x2="1070.7" y2="473.0"/>
<line x1="1070.7" y1="473.0" x2="1090.6" y2="448.9"/>
<line x1="1090.6" y1="448.9" x2="1080.5" y2="283.3"/>
<polygon points="1227.6,494.6 1243.2,495.7 1263.1,478.2 1247.5,477.2" fill="#ff0000" fill-opacity="0.48" stroke="none"/>
<line x1="1227.6" y1="494.6" x2="1243.2" y2="495.7"/>
<line x1="1243.2" y1="495.7" x2="1263.1" y2="478.2"/>
<line x1="1263.1" y1="478.2" x2="1247.5" y2="477.2"/>
<line x1="1247.5" y1="477.2" x2="1227.6" y2="494.6"/>
<polygon points="1243.2,495.7 1258.9,497.1 1278.8,479.3 1263.1,478.2" fill="#ff0000" fill-opacity="0.48" stroke="none"/>
<line x1="1243.2" y1="495.7" x2="1258.9" y2="497.1"/>
<line x1="1258.9" y1="497.1" x2="1278.8" y2="479.3"/>
<line x1="1278.8" y1="479.3" x2="1263.1" y2="478.2"/>
<line x1="1263.1" y1="478.2" x2="1243.2" y2="495.7"/>
<polygon points="1258.9,497.1 1274.6,498.2 1294.5,481.4 1278.8,479.3" fill="#ff0000" fill-opacity="0.48" stroke="none"/>
<line x1="1258.9" y1="497.1" x2="1274.6" y2="498.2"/>
<line x1="1274.6" y1="498.2" x2="1294.5" y2="481.4"/>
<line x1="1294.5" y1="481.4" x2="1278.8" y2="479.3"/>
<line x1="1278.8" y1="479.3" x2="1258.9" y2="497.1"/>
<polygon points="1274.6,498.2 1290.3,499.2 1310.2,482.5 1294.5,481.4" fill="#ff0000" fill-opacity="0.48" stroke="none"/>
<line x1="1274.6" y1="498.2" x2="1290.3" y2="499.2"/>
<line x1="1290.3" y1="499.2" x2="1310.2" y2="482.5"/>
<line x1="1310.2" y1="482.5" x2="1294.5" y2="481.4"/>
<line x1="1294.5" y1="481.4" x2="1274.6" y2="498.2"/>
<polygon points="1290.3,499.2 1306.0,500.3 1325.9,483.5 1310.2,482.5" fill="#ff0000" fill-opacity="0.48" stroke="none"/>
<line x1="1290.3" y1="499.2" x2="1306.0" y2="500.3"/>
<line x1="1306.0" y1="500.3" x2="1325.9" y2="483.5"/>
<line x1="1325.9" y1="483.5" x2="1310.2" y2="482.5"/>
<line x1="1310.2" y1="482.5" x2="1290.3" y2="499.2"/>
<polygon points="1050.8,483.5 1066.4,482.6 1086.3,465.4 1070.7,473.0" fill="#ff0000" fill-opacity="0.48" stroke="none"/>
<line x1="1050.8" y1="483.5" x2="1066.4" y2="482.6"/>
<line x1="1066.4" y1="482.6" x2="1086.3" y2="465.4"/>
<line x1="1086.3" y1="465.4" x2="1070.7" y2="473.0"/>
<line x1="1070.7" y1="473.0" x2="1050.8" y2="483.5"/>
<polygon points="1066.4,482.6 1082.1,500.1 1102.0,481.8 1086.3,465.4" fill="#ff0000" fill-opacity="0.48" stroke="none"/>
<line x1="1066.4" y1="482.6" x2="1082.1" y2="500.1"/>
<line x1="1082.1" y1="500.1" x2="1102.0" y2="481.8"/>
<line x1="1102.0" y1="481.8" x2="1086.3" y2="465.4"/>
<line x1="1086.3" y1="465.4" x2="1066.4" y2="482.6"/>
<polygon points="1082.1,500.1 1097.8,498.0 1117.7,482.8 1102.0,481.8" fill="#ff0000" fill-opacity="0.48" stroke="none"/>
<line x1="1082.1" y1="500.1" x2="1097.8" y2="498.0"/>
<line x1="1097.8" y1="498.0" x2="1117.7" y2="482.8"/>
<line x1="1117.7" y1="482.8" x2="1102.0" y2="481.8"/>
<line x1="1102.0" y1="481.8" x2="1082.1" y2="500.1"/>
<polygon points="1097.8,498.0 1113.5,506.4 1133.4,486.1 1117.7,482.8" fill="#ff0000" fill-opacity="0.48" stroke="none"/>
<line x1="1097.8" y1="498.0" x2="1113.5" y2="506.4"/>
<line x1="1113.5" y1="506.4" x2="1133.4" y2="486.1"/>
<line x1="1133.4" y1="486.1" x2="1117.7" y2="482.8"/>
<line x1="1117.7" y1="482.8" x2="1097.8" y2="498.0"/>
<polygon points="1113.5,506.4 1129.2,502.4 1149.1,484.9 1133.4,486.1" fill="#ff0000" fill-opacity="0.48" stroke="none"/>
<line x1="1113.5" y1="506.4" x2="1129.2" y2="502.4"/>
<line x1="1129.2" y1="502.4" x2="1149.1" y2="484.9"/>
<line x1="1149.1" y1="484.9" x2="1133.4" y2="486.1"/>
<line x1="1133.4" y1="486.1" x2="1113.5" y2="506.4"/>
<polygon points="1129.2,502.4 1144.9,512.5 1164.8,490.4 1149.1,484.9" fill="#ff0000" fill-opacity="0.48" stroke="none"/>
<line x1="1129.2" y1="502.4" x2="1144.9" y2="512.5"/>
<line x1="1144.9" y1="512.5" x2="1164.8" y2="490.4"/>
<line x1="1164.8" y1="490.4" x2="1149.1" y2="484.9"/>
<line x1="1149.1" y1="484.9" x2="1129.2" y2="502.4"/>
<polygon points="1144.9,512.5 1160.6,506.5 1180.5,489.2 1164.8,490.4" fill="#ff0000" fill-opacity="0.48" stroke="none"/>
<line x1="1144.9" y1="512.5" x2="1160.6" y2="506.5"/>
<line x1="1160.6" y1="506.5" x2="1180.5" y2="489.2"/>
<line x1="1180.5" y1="489.2" x2="1164.8" y2="490.4"/>
<line x1="1164.8" y1="490.4" x2="1144.9" y2="512.5"/>
<polygon points="1160.6,506.5 1176.3,512.6 1196.2,492.5 1180.5,489.2" fill="#ff0000" fill-opacity="0.48" stroke="none"/>
<line x1="1160.6" y1="506.5" x2="1176.3" y2="512.6"/>
<line x1="1176.3" y1="512.6" x2="1196.2" y2="492.5"/>
<line x1="1196.2" y1="492.5" x2="1180.5" y2="489.2"/>
<line x1="1180.5" y1="489.2" x2="1160.6" y2="506.5"/>
<polygon points="1176.3,512.6 1192.0,515.0 1211.9,493.6 1196.2,492.5" fill="#ff0000" fill-opacity="0.48" stroke="none"/>
<line x1="1176.3" y1="512.6" x2="1192.0" y2="515.0"/>
<line x1="1192.0" y1="515.0" x2="1211.9" y2="493.6"/>
<line x1="1211.9" y1="493.6" x2="1196.2" y2="492.5"/>
<line x1="1196.2" y1="492.5" x2="1176.3" y2="512.6"/>
<polygon points="1192.0,515.0 1207.7,519.0 1227.6,494.6 1211.9,493.6" fill="#ff0000" fill-opacity="0.48" stroke="none"/>
<line x1="1192.0" y1="515.0" x2="1207.7" y2="519.0"/>
<line x1="1207.7" y1="519.0" x2="1227.6" y2="494.6"/>
<line x1="1227.6" y1="494.6" x2="1211.9" y2="493.6"/>
<line x1="1211.9" y1="493.6" x2="1192.0" y2="515.0"/>
<polygon points="1040.2,318.2 1050.8,483.5 1070.7,473.0 1063.4,301.0" fill="#ff0000" fill-opacity="0.48" stroke="none"/>
<line x1="1040.2" y1="318.2" x2="1050.8" y2="483.5"/>
<line x1="1050.8" y1="483.5" x2="1070.7" y2="473.0"/>
<line x1="1070.7" y1="473.0" x2="1063.4" y2="301.0"/>
<polygon points="1207.7,519.0 1223.3,522.0 1243.2,495.7 1227.6,494.6" fill="#ff0000" fill-opacity="0.48" stroke="none"/>
<line x1="1207.7" y1="519.0" x2="1223.3" y2="522.0"/>
<line x1="1223.3" y1="522.0" x2="1243.2" y2="495.7"/>
<line x1="1243.2" y1="495.7" x2="1227.6" y2="494.6"/>
<line x1="1227.6" y1="494.6" x2="1207.7" y2="519.0"/>
<polygon points="1223.3,522.0 1239.0,524.2 1258.9,497.1 1243.2,495.7" fill="#ff0000" fill-opacity="0.48" stroke="none"/>
<line x1="1223.3" y1="522.0" x2="1239.0" y2="524.2"/>
<line x1="1239.0" y1="524.2" x2="1258.9" y2="497.1"/>
<line x1="1258.9" y1="497.1" x2="1243.2" y2="495.7"/>
<line x1="1243.2" y1="495.7" x2="1223.3" y2="522.0"/>
<polygon points="1239.0,524.2 1254.7,526.3 1274.6,498.2 1258.9,497.1" fill="#ff0000" fill-opacity="0.48" stroke="none"/>
<line x1="1239.0" y1="524.2" x2="1254.7" y2="526.3"/>
<line x1="1254.7" y1="526.3" x2="1274.6" y2="498.2"/>
<line x1="1274.6" y1="498.2" x2="1258.9" y2="497.1"/>
<line x1="1258.9" y1="497.1" x2="1239.0" y2="524.2"/>
<polygon points="1254.7,526.3 1270.4,527.4 1290.3,499.2 1274.6,498.2" fill="#ff0000" fill-opacity="0.48" stroke="none"/>
<line x1="1254.7" y1="526.3" x2="1270.4" y2="527.4"/>
<line x1="1270.4" y1="527.4" x2="1290.3" y2="499.2"/>
<line x1="1290.3" y1="499.2" x2="1274.6" y2="498.2"/>
<line x1="1274.6" y1="498.2" x2="1254.7" y2="526.3"/>
<polygon points="1270.4,527.4 1286.1,528.4 1306.0,500.3 1290.3,499.2" fill="#ff0000" fill-opacity="0.48" stroke="none"/>
<line x1="1270.4" y1="527.4" x2="1286.1" y2="528.4"/>
<line x1="1286.1" y1="528.4" x2="1306.0" y2="500.3"/>
<line x1="1306.0" y1="500.3" x2="1290.3" y2="499.2"/>
<line x1="1290.3" y1="499.2" x2="1270.4" y2="527.4"/></g>
<polygon points="1071.5,285.5 1081,284.5 1087.5,400 1090.5,443 1083,415 1076,380" fill="#ff0000" fill-opacity="0.55" stroke="#f20000" stroke-width="1.2"/>
<polygon points="1099,248 1123.5,248.5 1126,299 1113.3,280.7 1099,287.5" fill="#ff0000" fill-opacity="0.3" stroke="none"/>
<polygon points="1103.5,247.5 1108,247.8 1107,267 1100,284" fill="#ff0000" fill-opacity="0.45" stroke="none"/>
<line x1="1113.3" y1="249.5" x2="1113.3" y2="281" stroke="#f00000" stroke-width="1.6"/>
<rect x="344.3" y="22.4" width="715.2" height="154.7" fill="none" stroke="#000" stroke-width="1.6"/>
<line x1="389.0" y1="177.1" x2="389.0" y2="170.6" stroke="#000" stroke-width="1.4"/>
<line x1="389.0" y1="22.4" x2="389.0" y2="28.9" stroke="#000" stroke-width="1.4"/>
<line x1="612.5" y1="177.1" x2="612.5" y2="170.6" stroke="#000" stroke-width="1.4"/>
<line x1="612.5" y1="22.4" x2="612.5" y2="28.9" stroke="#000" stroke-width="1.4"/>
<line x1="836.0" y1="177.1" x2="836.0" y2="170.6" stroke="#000" stroke-width="1.4"/>
<line x1="836.0" y1="22.4" x2="836.0" y2="28.9" stroke="#000" stroke-width="1.4"/>
<line x1="1059.5" y1="177.1" x2="1059.5" y2="170.6" stroke="#000" stroke-width="1.4"/>
<line x1="1059.5" y1="22.4" x2="1059.5" y2="28.9" stroke="#000" stroke-width="1.4"/>
<line x1="344.3" y1="177.1" x2="350.8" y2="177.1" stroke="#000" stroke-width="1.3"/>
<line x1="1059.5" y1="177.1" x2="1053.0" y2="177.1" stroke="#000" stroke-width="1.3"/>
<line x1="344.3" y1="153.8" x2="348.3" y2="153.8" stroke="#000" stroke-width="1.3"/>
<line x1="1059.5" y1="153.8" x2="1055.5" y2="153.8" stroke="#000" stroke-width="1.3"/>
<line x1="344.3" y1="140.2" x2="348.3" y2="140.2" stroke="#000" stroke-width="1.3"/>
<line x1="1059.5" y1="140.2" x2="1055.5" y2="140.2" stroke="#000" stroke-width="1.3"/>
<line x1="344.3" y1="130.5" x2="348.3" y2="130.5" stroke="#000" stroke-width="1.3"/>
<line x1="1059.5" y1="130.5" x2="1055.5" y2="130.5" stroke="#000" stroke-width="1.3"/>
<line x1="344.3" y1="123.0" x2="348.3" y2="123.0" stroke="#000" stroke-width="1.3"/>
<line x1="1059.5" y1="123.0" x2="1055.5" y2="123.0" stroke="#000" stroke-width="1.3"/>
<line x1="344.3" y1="116.9" x2="348.3" y2="116.9" stroke="#000" stroke-width="1.3"/>
<line x1="1059.5" y1="116.9" x2="1055.5" y2="116.9" stroke="#000" stroke-width="1.3"/>
<line x1="344.3" y1="111.7" x2="348.3" y2="111.7" stroke="#000" stroke-width="1.3"/>
<line x1="1059.5" y1="111.7" x2="1055.5" y2="111.7" stroke="#000" stroke-width="1.3"/>
<line x1="344.3" y1="107.2" x2="348.3" y2="107.2" stroke="#000" stroke-width="1.3"/>
<line x1="1059.5" y1="107.2" x2="1055.5" y2="107.2" stroke="#000" stroke-width="1.3"/>
<line x1="344.3" y1="103.3" x2="348.3" y2="103.3" stroke="#000" stroke-width="1.3"/>
<line x1="1059.5" y1="103.3" x2="1055.5" y2="103.3" stroke="#000" stroke-width="1.3"/>
<line x1="344.3" y1="99.8" x2="350.8" y2="99.8" stroke="#000" stroke-width="1.3"/>
<line x1="1059.5" y1="99.8" x2="1053.0" y2="99.8" stroke="#000" stroke-width="1.3"/>
<line x1="344.3" y1="76.5" x2="348.3" y2="76.5" stroke="#000" stroke-width="1.3"/>
<line x1="1059.5" y1="76.5" x2="1055.5" y2="76.5" stroke="#000" stroke-width="1.3"/>
<line x1="344.3" y1="62.8" x2="348.3" y2="62.8" stroke="#000" stroke-width="1.3"/>
<line x1="1059.5" y1="62.8" x2="1055.5" y2="62.8" stroke="#000" stroke-width="1.3"/>
<line x1="344.3" y1="53.2" x2="348.3" y2="53.2" stroke="#000" stroke-width="1.3"/>
<line x1="1059.5" y1="53.2" x2="1055.5" y2="53.2" stroke="#000" stroke-width="1.3"/>
<line x1="344.3" y1="45.7" x2="348.3" y2="45.7" stroke="#000" stroke-width="1.3"/>
<line x1="1059.5" y1="45.7" x2="1055.5" y2="45.7" stroke="#000" stroke-width="1.3"/>
<line x1="344.3" y1="39.6" x2="348.3" y2="39.6" stroke="#000" stroke-width="1.3"/>
<line x1="1059.5" y1="39.6" x2="1055.5" y2="39.6" stroke="#000" stroke-width="1.3"/>
<line x1="344.3" y1="34.4" x2="348.3" y2="34.4" stroke="#000" stroke-width="1.3"/>
<line x1="1059.5" y1="34.4" x2="1055.5" y2="34.4" stroke="#000" stroke-width="1.3"/>
<line x1="344.3" y1="29.9" x2="348.3" y2="29.9" stroke="#000" stroke-width="1.3"/>
<line x1="1059.5" y1="29.9" x2="1055.5" y2="29.9" stroke="#000" stroke-width="1.3"/>
<line x1="344.3" y1="25.9" x2="348.3" y2="25.9" stroke="#000" stroke-width="1.3"/>
<line x1="1059.5" y1="25.9" x2="1055.5" y2="25.9" stroke="#000" stroke-width="1.3"/>
<path d="M343.8,92.0 L345.8,108.7 L347.8,102.4 L349.8,95.9 L351.8,91.8 L353.8,88.7 L355.8,90.5 L357.8,89.2 L359.8,93.1 L361.8,94.5 L363.8,84.2 L365.8,77.7 L367.8,84.6 L369.8,80.6 L371.8,80.9 L373.8,84.1 L375.8,81.8 L377.8,83.6 L379.8,97.7 L381.8,93.9 L383.8,85.6 L385.8,85.2 L387.8,90.9 L389.8,92.4 L391.8,96.9 L393.8,98.0 L395.8,92.5 L397.8,86.5 L399.8,83.2 L401.8,86.6 L403.8,91.3 L405.8,98.7 L407.8,96.0 L409.8,96.5 L411.8,93.1 L413.8,85.8 L415.8,82.3 L417.8,84.5 L419.8,83.0 L421.8,79.9 L423.8,85.9 L425.8,93.7 L427.8,98.9 L429.8,106.1 L431.8,108.9 L433.8,99.6 L435.8,86.8 L437.8,91.8 L439.8,97.4 L441.8,99.6 L443.8,96.7 L445.8,98.1 L447.8,101.9 L449.8,97.4 L451.8,94.8 L453.8,88.6 L455.8,88.3 L457.8,87.9 L459.8,85.3 L461.8,86.0 L463.8,93.9 L465.8,101.0 L467.8,99.6 L469.8,89.8 L471.8,88.5 L473.8,93.7 L475.8,100.5 L477.8,91.0 L479.8,84.6 L481.8,88.9 L483.8,89.3 L485.8,90.6 L487.8,90.3 L489.8,93.6 L491.8,92.8 L493.8,91.0 L495.8,92.2 L497.8,96.0 L499.8,94.2 L501.8,84.6 L503.8,87.7 L505.8,97.8 L507.8,101.6 L509.8,103.5 L511.8,105.0 L513.8,109.0 L515.8,111.6 L517.8,90.0 L519.8,67.0 L521.8,81.5 L523.8,87.8 L525.8,92.3 L527.8,90.0 L529.8,90.2 L531.8,91.5 L533.8,92.2 L535.8,89.4 L537.8,85.9 L539.8,81.1 L541.8,74.7 L543.8,79.1 L545.8,88.0 L547.8,82.9 L549.8,80.9 L551.8,87.9 L553.8,98.2 L555.8,101.8 L557.8,92.3 L559.8,84.5 L561.8,95.5 L563.8,95.9 L565.8,90.6 L567.8,87.1 L569.8,96.5 L571.8,105.7 L573.8,106.8 L575.8,104.3 L577.8,104.9 L579.8,107.9 L581.8,105.6 L583.8,95.6 L585.8,83.6 L587.8,81.9 L589.8,84.1 L591.8,92.2 L593.8,95.2 L595.8,89.1 L597.8,86.2 L599.8,88.1 L601.8,91.7 L603.8,94.5 L605.8,86.8 L607.8,80.8 L609.8,83.1 L611.8,86.2 L613.8,84.8 L615.8,83.9 L617.8,81.1 L619.8,76.6 L621.8,67.2 L623.8,71.4 L625.8,68.0 L627.8,70.0 L629.8,85.4 L631.8,83.1 L633.8,83.9 L635.8,85.3 L637.8,86.0 L639.8,90.8 L641.8,94.5 L643.8,98.1 L645.8,97.4 L647.8,91.4 L649.8,90.3 L651.8,98.4 L653.8,102.8 L655.8,100.9 L657.8,94.6 L659.8,88.0 L661.8,83.3 L663.8,88.0 L665.8,89.1 L667.8,95.1 L669.8,100.8 L671.8,96.2 L673.8,85.8 L675.8,83.2 L677.8,82.9 L679.8,84.8 L681.8,90.5 L683.8,95.4 L685.8,102.2 L687.8,107.9 L689.8,105.3 L691.8,98.5 L693.8,106.8 L695.8,100.1 L697.8,92.4 L699.8,81.2 L701.8,74.1 L703.8,78.2 L705.8,86.8 L707.8,97.7 L709.8,91.4 L711.8,90.4 L713.8,94.2 L715.8,84.5 L717.8,86.4 L719.8,91.8 L721.8,89.9 L723.8,89.7 L725.8,89.8 L727.8,97.2 L729.8,107.3 L731.8,101.5 L733.8,97.3 L735.8,96.5 L737.8,87.0 L739.8,80.1 L741.8,82.0 L743.8,91.4 L745.8,98.7 L747.8,96.8 L749.8,88.0 L751.8,78.1 L753.8,76.8 L755.8,84.8 L757.8,95.2 L759.8,95.5 L761.8,92.8 L763.8,103.2 L765.8,96.3 L767.8,94.7 L769.8,95.0 L771.8,108.7 L773.8,101.3 L775.8,99.1 L777.8,102.9 L779.8,86.7 L781.8,81.5 L783.8,80.0 L785.8,72.6 L787.8,72.5 L789.8,86.1 L791.8,74.4 L793.8,84.9 L795.8,90.2 L797.8,86.0 L799.8,83.9 L801.8,85.0 L803.8,90.4 L805.8,93.4 L807.8,95.1 L809.8,95.9 L811.8,99.6 L813.8,89.3 L815.8,86.2 L817.8,85.7 L819.8,72.5 L821.8,81.7 L823.8,92.0 L825.8,89.2 L827.8,89.8 L829.8,96.1 L831.8,90.4 L833.8,91.1 L835.8,92.6 L837.8,90.3 L839.8,88.6 L841.8,89.9 L843.8,89.4 L845.8,84.1 L847.8,86.5 L849.8,91.0 L851.8,98.9 L853.8,95.2 L855.8,97.8 L857.8,108.9 L859.8,107.6 L861.8,102.6 L863.8,100.5 L865.8,105.7 L867.8,105.4 L869.8,96.9 L871.8,88.9 L873.8,83.9 L875.8,83.1 L877.8,88.8 L879.8,94.6 L881.8,84.5 L883.8,81.5 L885.8,85.6 L887.8,84.8 L889.8,81.3 L891.8,79.5 L893.8,80.5 L895.8,79.2 L897.8,77.1 L899.8,79.1 L901.8,83.4 L903.8,83.8 L905.8,94.0 L907.8,97.1 L909.8,95.7 L911.8,107.1 L913.8,104.1 L915.8,95.7 L917.8,90.2 L919.8,80.4 L921.8,81.0 L923.8,80.6 L925.8,77.5 L927.8,78.5 L929.8,78.6 L931.8,81.1 L933.8,92.1 L935.8,97.9 L937.8,96.2 L939.8,100.1 L941.8,101.6 L943.8,102.8 L945.8,104.5 L947.8,101.2 L949.8,92.6 L951.8,85.8 L953.8,83.2 L955.8,76.5 L957.8,69.3 L959.8,65.1 L961.8,65.9 L963.8,83.9 L965.8,78.8 L967.8,81.2 L969.8,91.8 L971.8,88.1 L973.8,84.6 L975.8,88.5 L977.8,94.2 L979.8,92.5 L981.8,92.3 L983.8,104.3 L985.8,110.1 L987.8,98.3 L989.8,96.9 L991.8,101.3 L993.8,90.1 L995.8,83.0 L997.8,90.0 L999.8,90.1 L1001.8,90.1 L1003.8,85.7 L1005.8,83.2 L1007.8,78.6 L1009.8,90.4 L1011.8,78.7 L1013.8,86.9 L1015.8,97.3 L1017.8,104.9 L1019.8,95.7 L1021.8,86.1 L1023.8,88.5 L1025.8,92.2 L1027.8,98.6 L1029.8,100.4 L1031.8,97.9 L1033.8,96.6 L1035.8,98.2 L1037.8,98.0 L1039.8,92.3 L1041.8,92.1 L1043.8,93.6 L1045.8,100.0 L1047.8,101.6 L1049.8,94.5 L1051.8,92.1 L1053.8,98.7 L1055.8,93.3 L1057.8,86.8" fill="none" stroke="#ff0000" stroke-width="2.8" stroke-linejoin="round"/>
<path d="M343.8,131.0 L345.8,118.0 L347.8,95.8 L349.8,91.1 L351.8,91.7 L353.8,90.4 L355.8,89.5 L357.8,92.5 L359.8,91.0 L361.8,82.9 L363.8,87.6 L365.8,86.6 L367.8,80.3 L369.8,80.6 L371.8,80.3 L373.8,79.7 L375.8,91.2 L377.8,92.0 L379.8,88.7 L381.8,88.3 L383.8,93.5 L385.8,95.7 L387.8,99.1 L389.8,102.4 L391.8,101.0 L393.8,90.8 L395.8,88.7 L397.8,92.4 L399.8,94.4 L401.8,101.8 L403.8,99.1 L405.8,102.4 L407.8,101.1 L409.8,91.4 L411.8,85.7 L413.8,86.4 L415.8,84.3 L417.8,80.1 L419.8,80.2 L421.8,86.0 L423.8,96.0 L425.8,101.4 L427.8,102.7 L429.8,101.8 L431.8,88.7 L433.8,89.8 L435.8,98.9 L437.8,99.7 L439.8,96.7 L441.8,95.4 L443.8,98.1 L445.8,100.9 L447.8,97.8 L449.8,90.7 L451.8,90.0 L453.8,85.9 L455.8,85.4 L457.8,85.3 L459.8,92.1 L461.8,97.3 L463.8,96.6 L465.8,88.5 L467.8,81.7 L469.8,90.5 L471.8,96.8 L473.8,89.8 L475.8,83.1 L477.8,88.6 L479.8,95.4 L481.8,93.7 L483.8,94.2 L485.8,93.0 L487.8,93.6 L489.8,91.6 L491.8,95.9 L493.8,99.4 L495.8,94.9 L497.8,82.7 L499.8,81.4 L501.8,87.6 L503.8,96.0 L505.8,97.8 L507.8,97.6 L509.8,101.7 L511.8,106.7 L513.8,94.4 L515.8,69.8 L517.8,76.5 L519.8,86.8 L521.8,94.0 L523.8,92.0 L525.8,88.7 L527.8,89.2 L529.8,95.5 L531.8,92.1 L533.8,88.4 L535.8,83.0 L537.8,76.2 L539.8,74.7 L541.8,81.5 L543.8,84.3 L545.8,82.3 L547.8,86.0 L549.8,94.2 L551.8,100.8 L553.8,94.1 L555.8,84.0 L557.8,89.4 L559.8,94.2 L561.8,92.4 L563.8,90.3 L565.8,94.0 L567.8,99.5 L569.8,108.3 L571.8,108.5 L573.8,106.7 L575.8,109.6 L577.8,107.8 L579.8,99.3 L581.8,89.0 L583.8,89.5 L585.8,87.5 L587.8,94.0 L589.8,100.3 L591.8,96.0 L593.8,89.5 L595.8,92.7 L597.8,98.0 L599.8,97.3 L601.8,90.7 L603.8,82.7 L605.8,88.6 L607.8,93.3 L609.8,92.8 L611.8,89.2 L613.8,86.9 L615.8,81.6 L617.8,70.6 L619.8,73.4 L621.8,72.2 L623.8,69.9 L625.8,84.1 L627.8,83.5 L629.8,81.7 L631.8,83.0 L633.8,87.8 L635.8,93.6 L637.8,96.5 L639.8,98.0 L641.8,98.0 L643.8,89.9 L645.8,86.2 L647.8,96.0 L649.8,104.2 L651.8,102.6 L653.8,96.5 L655.8,92.2 L657.8,87.9 L659.8,91.9 L661.8,95.7 L663.8,98.2 L665.8,100.0 L667.8,99.3 L669.8,92.8 L671.8,89.5 L673.8,89.2 L675.8,86.5 L677.8,90.2 L679.8,96.0 L681.8,101.6 L683.8,104.7 L685.8,107.7 L687.8,102.3 L689.8,108.5 L691.8,109.4 L693.8,101.6 L695.8,88.7 L697.8,77.9 L699.8,83.1 L701.8,90.7 L703.8,100.6 L705.8,96.0 L707.8,93.3 L709.8,96.1 L711.8,87.1 L713.8,86.0 L715.8,92.4 L717.8,92.7 L719.8,95.9 L721.8,96.8 L723.8,97.1 L725.8,111.1 L727.8,106.0 L729.8,99.2 L731.8,96.3 L733.8,89.1 L735.8,82.4 L737.8,83.6 L739.8,90.4 L741.8,98.2 L743.8,100.8 L745.8,92.2 L747.8,84.6 L749.8,77.6 L751.8,84.7 L753.8,94.3 L755.8,96.4 L757.8,93.2 L759.8,103.7 L761.8,99.6 L763.8,97.0 L765.8,100.4 L767.8,106.9 L769.8,107.7 L771.8,99.5 L773.8,108.4 L775.8,96.4 L777.8,89.6 L779.8,86.6 L781.8,78.0 L783.8,74.0 L785.8,86.2 L787.8,79.2 L789.8,82.2 L791.8,92.3 L793.8,85.9 L795.8,82.6 L797.8,84.9 L799.8,88.8 L801.8,93.9 L803.8,97.6 L805.8,97.3 L807.8,107.8 L809.8,95.3 L811.8,86.4 L813.8,89.1 L815.8,80.8 L817.8,79.7 L819.8,93.8 L821.8,91.6 L823.8,87.7 L825.8,95.9 L827.8,92.3 L829.8,92.3 L831.8,99.6 L833.8,97.9 L835.8,96.1 L837.8,93.8 L839.8,89.5 L841.8,85.2 L843.8,84.6 L845.8,89.1 L847.8,97.3 L849.8,96.0 L851.8,99.3 L853.8,109.1 L855.8,114.5 L857.8,111.3 L859.8,107.8 L861.8,106.6 L863.8,110.0 L865.8,99.8 L867.8,91.3 L869.8,90.4 L871.8,90.1 L873.8,90.9 L875.8,98.4 L877.8,88.5 L879.8,82.0 L881.8,84.7 L883.8,86.5 L885.8,87.0 L887.8,83.9 L889.8,81.3 L891.8,83.2 L893.8,81.9 L895.8,80.3 L897.8,80.0 L899.8,80.1 L901.8,87.9 L903.8,96.2 L905.8,92.7 L907.8,103.5 L909.8,104.5 L911.8,100.0 L913.8,93.0 L915.8,87.0 L917.8,87.7 L919.8,88.9 L921.8,86.6 L923.8,82.2 L925.8,82.5 L927.8,82.7 L929.8,91.1 L931.8,97.3 L933.8,98.6 L935.8,102.2 L937.8,104.6 L939.8,104.7 L941.8,109.9 L943.8,105.2 L945.8,101.3 L947.8,91.9 L949.8,86.1 L951.8,81.7 L953.8,77.0 L955.8,68.2 L957.8,68.6 L959.8,81.7 L961.8,82.8 L963.8,76.2 L965.8,88.7 L967.8,87.6 L969.8,83.3 L971.8,86.5 L973.8,91.3 L975.8,97.0 L977.8,94.5 L979.8,102.4 L981.8,113.0 L983.8,103.9 L985.8,96.0 L987.8,103.2 L989.8,95.9 L991.8,85.8 L993.8,88.0 L995.8,93.6 L997.8,93.6 L999.8,92.0 L1001.8,85.3 L1003.8,79.9 L1005.8,87.9 L1007.8,82.6 L1009.8,85.8 L1011.8,92.7 L1013.8,102.0 L1015.8,101.5 L1017.8,93.1 L1019.8,92.3 L1021.8,93.4 L1023.8,102.7 L1025.8,105.6 L1027.8,101.0 L1029.8,97.3 L1031.8,97.1 L1033.8,99.2 L1035.8,97.1 L1037.8,93.2 L1039.8,96.1 L1041.8,97.4 L1043.8,104.1 L1045.8,100.9 L1047.8,98.4 L1049.8,102.3 L1051.8,97.4 L1053.8,91.6 L1055.8,78.4 L1057.8,68.8" fill="none" stroke="#0000f0" stroke-width="2.8" stroke-linejoin="round"/>
<path d="M343.8,111.8 L347.7,95.1 L350.3,86.2 L352.8,84.9 L356.7,90.0 L360.5,93.8 L363.7,74.6 L366.3,88.7 L369.5,77.2 L372.7,82.3 L375.3,74.0 L378.5,99.0 L382.9,77.2 L386.2,91.3 L388.7,95.1 L392.6,101.5 L395.1,87.4 L398.3,77.2 L401.5,88.7 L404.1,100.3 L406.7,97.7 L409.2,104.1 L411.8,90.0 L413.7,79.7 L416.9,82.3 L420.8,75.3 L424.6,91.3 L428.5,107.9 L431.0,106.7 L434.2,79.7 L437.4,96.4 L440.6,100.3 L442.6,95.1 L446.4,101.5 L449.0,97.7 L451.5,88.7 L454.7,82.3 L458.6,77.2 L461.8,88.7 L465.0,102.8 L469.5,77.8 L474.0,101.5 L477.8,79.7 L481.0,91.3 L484.9,93.8 L488.7,93.8 L492.6,88.7 L495.1,97.7 L497.7,93.8 L500.9,70.8 L505.4,96.4 L510.5,102.8 L514.4,111.8 L518.2,47.7 L520.8,77.2 L524.0,91.3 L527.8,83.6 L531.7,92.6 L535.5,82.3 L540.6,67.6 L544.5,84.9 L548.3,75.9 L553.5,107.9 L557.9,75.9 L561.2,96.4 L566.3,81.0 L571.4,106.7 L575.3,104.1 L579.1,113.1 L584.2,79.7 L588.1,82.3 L591.9,99.0 L595.8,87.4 L599.6,96.4 L602.2,99.0 L605.4,74.6 L609.9,88.7 L613.7,90.0 L617.6,81.0 L620.1,59.2 L622.7,72.1 L625.3,57.3 L628.5,86.2 L631.0,77.2 L634.9,81.0 L639.4,91.3 L643.2,95.1 L647.7,74.6 L651.5,104.1 L655.4,96.4 L659.9,81.0 L663.7,88.7 L668.8,105.4 L672.7,82.3 L677.2,75.9 L681.7,92.6 L686.8,106.7 L690.6,96.4 L692.6,113.1 L695.8,97.7 L699.6,62.4 L702.8,78.5 L706.0,101.5 L709.2,86.2 L711.8,93.8 L715.0,75.3 L718.2,91.3 L722.1,91.3 L725.3,90.0 L727.8,113.1 L731.0,100.3 L734.2,97.7 L737.4,76.5 L740.6,79.7 L743.2,101.5 L745.8,105.4 L748.3,84.9 L751.5,64.4 L754.1,74.6 L756.7,99.0 L759.9,87.4 L761.8,106.7 L765.6,91.3 L768.8,95.1 L770.8,116.9 L773.3,95.1 L775.9,107.9 L778.5,83.6 L781.7,82.3 L785.5,66.9 L788.1,88.7 L790.6,70.8 L793.2,91.3 L797.7,78.5 L801.5,86.2 L804.7,93.8 L807.9,97.7 L809.9,111.8 L813.1,82.3 L816.3,83.6 L818.8,59.9 L821.4,91.3 L825.3,81.0 L827.8,93.8 L831.0,79.7 L833.6,93.8 L837.4,88.7 L841.3,88.7 L843.8,78.5 L847.1,82.3 L850.3,97.7 L852.8,87.4 L856.7,111.8 L860.5,102.8 L862.9,103.4 L865.6,111.8 L870.1,84.7 L875.1,78.2 L878.0,96.2 L880.9,76.8 L884.5,87.6 L887.4,83.3 L891.0,76.8 L894.6,79.7 L898.2,77.5 L901.8,79.7 L905.4,97.7 L907.6,86.1 L910.5,113.5 L914.1,94.8 L918.4,75.3 L922.0,81.8 L925.6,76.8 L929.9,77.5 L932.8,97.0 L936.4,94.8 L940.7,99.1 L943.6,107.8 L947.2,100.6 L950.8,78.9 L953.7,76.0 L957.3,60.2 L960.2,64.5 L962.4,89.0 L965.3,71.7 L968.1,94.8 L971.0,81.8 L973.9,83.3 L976.8,97.7 L979.7,89.0 L984.0,115.7 L986.9,87.6 L989.8,100.6 L994.1,77.5 L997.0,94.8 L1000.6,91.9 L1004.2,80.4 L1006.4,75.3 L1008.5,91.9 L1010.0,74.6 L1013.6,93.4 L1016.5,109.2 L1020.1,81.8 L1022.9,81.8 L1027.3,104.9 L1031.6,94.8 L1035.2,97.7 L1038.8,87.6 L1042.4,90.5 L1046.0,106.3 L1048.9,89.0 L1052.5,102.0 L1056.1,86.1 L1059.0,64.5" fill="none" stroke="#00ee00" stroke-width="2.8" stroke-linejoin="round"/>
<g opacity="0.995">
<text font-size="100" transform="translate(50.45,542.72) scale(0.2580,0.2450)">0</text>
<text font-size="100" transform="translate(41.03,498.16) scale(0.2580,0.2450)">0.2</text>
<text font-size="100" transform="translate(40.52,453.60) scale(0.2580,0.2450)">0.4</text>
<text font-size="100" transform="translate(40.65,409.04) scale(0.2580,0.2450)">0.6</text>
<text font-size="100" transform="translate(40.77,364.48) scale(0.2580,0.2450)">0.8</text>
<text font-size="100" transform="translate(50.06,320.28) scale(0.2580,0.2450)">1</text>
<polyline points="7.9,438.2 21.2,443.8 34.5,438.2" fill="none" stroke="#1a1a1a" stroke-width="1.25"/><polyline points="7.9,414.2 21.2,408.6 34.5,414.2" fill="none" stroke="#1a1a1a" stroke-width="1.25"/><g transform="translate(21.20,426.20) rotate(-90)"><text font-size="100" font-style="italic" transform="translate(-9.00,7.20) scale(0.3322,0.2892)">R</text></g>
<text font-size="100" transform="translate(149.31,612.60) scale(0.2849,0.2761)">Observers</text>
<text font-size="100" transform="translate(87.50,572.30) scale(0.245,0.243)">2.5</text><text font-size="100" transform="translate(119.14,573.00) scale(0.236,0.298)">%</text>
<text font-size="100" transform="translate(184.14,578.30) scale(0.245,0.243)">5</text><text font-size="100" transform="translate(197.41,579.00) scale(0.236,0.298)">%</text>
<text font-size="100" transform="translate(244.63,582.10) scale(0.245,0.243)">7.5</text><text font-size="100" transform="translate(276.27,582.80) scale(0.236,0.298)">%</text>
<text font-size="100" transform="translate(329.75,586.40) scale(0.245,0.243)">10</text><text font-size="100" transform="translate(355.26,587.10) scale(0.236,0.298)">%</text>
<text font-size="100" transform="translate(479.54,509.80) scale(0.245,0.243)">5</text><text font-size="100" transform="translate(492.81,510.50) scale(0.236,0.298)">%</text>
<text font-size="100" transform="translate(440.20,544.30) scale(0.245,0.243)">15</text><text font-size="100" transform="translate(465.71,545.00) scale(0.236,0.298)">%</text>
<text font-size="100" transform="translate(399.96,578.00) scale(0.245,0.243)">25</text><text font-size="100" transform="translate(425.48,578.70) scale(0.236,0.298)">%</text>
<text font-size="100" transform="translate(442.97,616.18) rotate(-42.5) scale(0.289)">Training</text>
<text font-size="100" transform="translate(552.90,572.30) scale(0.245,0.243)">2.5</text><text font-size="100" transform="translate(584.54,573.00) scale(0.236,0.298)">%</text>
<text font-size="100" transform="translate(649.54,578.30) scale(0.245,0.243)">5</text><text font-size="100" transform="translate(662.81,579.00) scale(0.236,0.298)">%</text>
<text font-size="100" transform="translate(710.03,582.10) scale(0.245,0.243)">7.5</text><text font-size="100" transform="translate(741.67,582.80) scale(0.236,0.298)">%</text>
<text font-size="100" transform="translate(795.15,586.40) scale(0.245,0.243)">10</text><text font-size="100" transform="translate(820.66,587.10) scale(0.236,0.298)">%</text>
<text font-size="100" transform="translate(944.94,509.80) scale(0.245,0.243)">5</text><text font-size="100" transform="translate(958.21,510.50) scale(0.236,0.298)">%</text>
<text font-size="100" transform="translate(905.60,544.30) scale(0.245,0.243)">15</text><text font-size="100" transform="translate(931.11,545.00) scale(0.236,0.298)">%</text>
<text font-size="100" transform="translate(865.36,578.00) scale(0.245,0.243)">25</text><text font-size="100" transform="translate(890.88,578.70) scale(0.236,0.298)">%</text>
<text font-size="100" transform="translate(988.40,572.30) scale(0.245,0.243)">2.5</text><text font-size="100" transform="translate(1020.04,573.00) scale(0.236,0.298)">%</text>
<text font-size="100" transform="translate(1085.04,578.30) scale(0.245,0.243)">5</text><text font-size="100" transform="translate(1098.31,579.00) scale(0.236,0.298)">%</text>
<text font-size="100" transform="translate(1145.53,582.10) scale(0.245,0.243)">7.5</text><text font-size="100" transform="translate(1177.17,582.80) scale(0.236,0.298)">%</text>
<text font-size="100" transform="translate(1230.65,586.40) scale(0.245,0.243)">10</text><text font-size="100" transform="translate(1256.16,587.10) scale(0.236,0.298)">%</text>
<text font-size="100" transform="translate(1380.44,509.80) scale(0.245,0.243)">5</text><text font-size="100" transform="translate(1393.71,510.50) scale(0.236,0.298)">%</text>
<text font-size="100" transform="translate(1341.10,544.30) scale(0.245,0.243)">15</text><text font-size="100" transform="translate(1366.61,545.00) scale(0.236,0.298)">%</text>
<text font-size="100" transform="translate(1300.86,578.00) scale(0.245,0.243)">25</text><text font-size="100" transform="translate(1326.38,578.70) scale(0.236,0.298)">%</text>
<text font-size="100" transform="translate(370.68,204.88) scale(0.2430,0.2500)">500</text>
<text font-size="100" transform="translate(588.29,205.00) scale(0.2430,0.2500)">1000</text>
<text font-size="100" transform="translate(810.89,205.00) scale(0.2430,0.2500)">1500</text>
<text font-size="100" transform="translate(1035.00,204.88) scale(0.2430,0.2500)">2000</text>
<text font-size="100" transform="translate(922.46,228.66) scale(0.2955,0.2864)">Time</text>
<text font-size="100" transform="translate(303.71,27.47) scale(0.2379,0.2412)">10</text>
<text font-size="100" transform="translate(289.49,105.29) scale(0.2402,0.2324)">10</text>
<text font-size="100" transform="translate(289.42,182.87) scale(0.2483,0.2412)">10</text>
<text font-size="100" transform="translate(328.30,19.90) scale(0.1619,0.1731)">0</text>
<text font-size="100" transform="translate(316.36,97.35) scale(0.1789,0.1712)">−1</text>
<text font-size="100" transform="translate(315.99,174.75) scale(0.1917,0.1738)">−2</text>
<polyline points="252.0,111.9 265.5,117.7 279.0,111.9" fill="none" stroke="#1a1a1a" stroke-width="1.25"/><polyline points="252.0,87.7 265.5,81.9 279.0,87.7" fill="none" stroke="#1a1a1a" stroke-width="1.25"/><g transform="translate(265.50,99.80) rotate(-90)"><text font-size="100" font-style="italic" transform="translate(-8.20,7.10) scale(0.3136,0.2969)">R</text></g>
</g>
<line x1="680.8" y1="177.3" x2="312.4" y2="503.4" stroke="#000" stroke-width="2.6"/>
<ellipse cx="312.4" cy="503.4" rx="9.4" ry="6.6" fill="#000"/>
<line x1="680.8" y1="177.3" x2="777.2" y2="498.9" stroke="#000" stroke-width="2.6"/>
<ellipse cx="777.2" cy="498.9" rx="9.4" ry="6.6" fill="#000"/>
<line x1="680.8" y1="177.3" x2="1212.6" y2="502.4" stroke="#000" stroke-width="2.6"/>
<ellipse cx="1212.6" cy="502.4" rx="9.4" ry="6.6" fill="#000"/>
</svg></body></html>
